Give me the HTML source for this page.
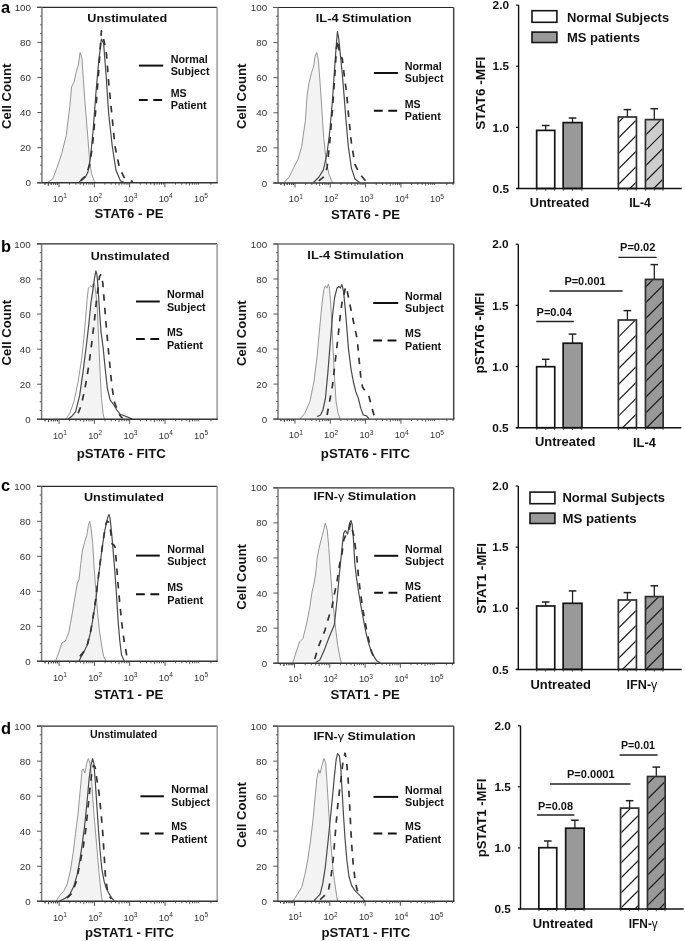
<!DOCTYPE html>
<html><head><meta charset="utf-8"><style>
html,body{margin:0;padding:0;background:#fff;width:685px;height:941px;overflow:hidden}
svg{display:block;filter:grayscale(1)}
text{font-family:"Liberation Sans", sans-serif}
</style></head><body>
<svg width="685" height="941" viewBox="0 0 685 941">
<rect width="685" height="941" fill="#fff"/>
<polygon points="47.2,182.7 52.7,179.0 57.2,167.3 61.7,153.7 66.2,135.7 69.8,106.8 71.6,86.9 74.3,81.4 76.1,72.4 78.3,65.2 80.1,52.5 81.9,58.0 83.4,79.6 85.2,105.0 87.4,132.0 89.7,161.0 91.5,173.6 94.2,180.8 96.0,182.7" fill="#f3f3f3" stroke="none"/>
<polyline points="47.2,182.7 52.7,179.0 57.2,167.3 61.7,153.7 66.2,135.7 69.8,106.8 71.6,86.9 74.3,81.4 76.1,72.4 78.3,65.2 80.1,52.5 81.9,58.0 83.4,79.6 85.2,105.0 87.4,132.0 89.7,161.0 91.5,173.6 94.2,180.8 96.0,182.7" fill="none" stroke="#969696" stroke-width="1.0"/>
<polyline points="78.9,182.7 81.0,180.0 83.4,177.5 86.0,176.0 87.9,172.0 90.6,157.0 93.3,128.0 96.0,92.0 98.7,61.6 101.4,39.0 103.6,43.5 106.0,74.0 108.7,114.0 112.3,146.5 115.9,170.0 120.4,180.8 125.0,182.7" fill="none" stroke="#4a4a4a" stroke-width="1.2" stroke-linejoin="round"/>
<polyline points="80.7,181.0 86.0,176.0 89.5,165.0 92.4,146.5 96.0,106.8 98.7,70.6 101.4,30.8 104.2,41.7 106.5,54.3 108.7,83.0 111.4,110.0 115.0,146.5 119.5,168.0 125.0,179.0 133.0,181.5" fill="none" stroke="#333" stroke-width="1.7" stroke-dasharray="6.5,7" stroke-linejoin="round"/>
<line x1="37.20" y1="7.30" x2="217.10" y2="7.30" stroke="#2a2a2a" stroke-width="1.2"/>
<line x1="217.10" y1="7.30" x2="217.10" y2="182.70" stroke="#999" stroke-width="1.5"/>
<line x1="41.90" y1="7.30" x2="41.90" y2="182.70" stroke="#7a7a7a" stroke-width="1.5"/>
<line x1="37.20" y1="182.70" x2="217.80" y2="182.70" stroke="#333" stroke-width="1.4"/>
<line x1="37.40" y1="182.70" x2="41.90" y2="182.70" stroke="#555" stroke-width="1.0"/>
<line x1="40.10" y1="173.93" x2="41.90" y2="173.93" stroke="#555" stroke-width="1.0"/>
<line x1="40.10" y1="165.16" x2="41.90" y2="165.16" stroke="#555" stroke-width="1.0"/>
<line x1="40.10" y1="156.39" x2="41.90" y2="156.39" stroke="#555" stroke-width="1.0"/>
<line x1="37.40" y1="147.62" x2="41.90" y2="147.62" stroke="#555" stroke-width="1.0"/>
<line x1="40.10" y1="138.85" x2="41.90" y2="138.85" stroke="#555" stroke-width="1.0"/>
<line x1="40.10" y1="130.08" x2="41.90" y2="130.08" stroke="#555" stroke-width="1.0"/>
<line x1="40.10" y1="121.31" x2="41.90" y2="121.31" stroke="#555" stroke-width="1.0"/>
<line x1="37.40" y1="112.54" x2="41.90" y2="112.54" stroke="#555" stroke-width="1.0"/>
<line x1="40.10" y1="103.77" x2="41.90" y2="103.77" stroke="#555" stroke-width="1.0"/>
<line x1="40.10" y1="95.00" x2="41.90" y2="95.00" stroke="#555" stroke-width="1.0"/>
<line x1="40.10" y1="86.23" x2="41.90" y2="86.23" stroke="#555" stroke-width="1.0"/>
<line x1="37.40" y1="77.46" x2="41.90" y2="77.46" stroke="#555" stroke-width="1.0"/>
<line x1="40.10" y1="68.69" x2="41.90" y2="68.69" stroke="#555" stroke-width="1.0"/>
<line x1="40.10" y1="59.92" x2="41.90" y2="59.92" stroke="#555" stroke-width="1.0"/>
<line x1="40.10" y1="51.15" x2="41.90" y2="51.15" stroke="#555" stroke-width="1.0"/>
<line x1="37.40" y1="42.38" x2="41.90" y2="42.38" stroke="#555" stroke-width="1.0"/>
<line x1="40.10" y1="33.61" x2="41.90" y2="33.61" stroke="#555" stroke-width="1.0"/>
<line x1="40.10" y1="24.84" x2="41.90" y2="24.84" stroke="#555" stroke-width="1.0"/>
<line x1="40.10" y1="16.07" x2="41.90" y2="16.07" stroke="#555" stroke-width="1.0"/>
<line x1="37.40" y1="7.30" x2="41.90" y2="7.30" stroke="#555" stroke-width="1.0"/>
<text x="31.0" y="186.2" font-size="9.8" text-anchor="end" fill="#333">0</text>
<text x="31.0" y="151.2" font-size="9.8" text-anchor="end" fill="#333">20</text>
<text x="31.0" y="116.1" font-size="9.8" text-anchor="end" fill="#333">40</text>
<text x="31.0" y="81.0" font-size="9.8" text-anchor="end" fill="#333">60</text>
<text x="31.0" y="45.9" font-size="9.8" text-anchor="end" fill="#333">80</text>
<text x="31.0" y="10.9" font-size="9.8" text-anchor="end" fill="#333">100</text>
<line x1="44.95" y1="182.70" x2="44.95" y2="184.70" stroke="#444" stroke-width="0.9"/>
<line x1="48.37" y1="182.70" x2="48.37" y2="185.50" stroke="#444" stroke-width="0.9"/>
<line x1="51.17" y1="182.70" x2="51.17" y2="184.70" stroke="#444" stroke-width="0.9"/>
<line x1="53.53" y1="182.70" x2="53.53" y2="184.70" stroke="#444" stroke-width="0.9"/>
<line x1="55.58" y1="182.70" x2="55.58" y2="184.70" stroke="#444" stroke-width="0.9"/>
<line x1="57.38" y1="182.70" x2="57.38" y2="184.70" stroke="#444" stroke-width="0.9"/>
<line x1="59.00" y1="182.70" x2="59.00" y2="187.30" stroke="#444" stroke-width="0.9"/>
<line x1="69.63" y1="182.70" x2="69.63" y2="184.70" stroke="#444" stroke-width="0.9"/>
<line x1="75.84" y1="182.70" x2="75.84" y2="184.70" stroke="#444" stroke-width="0.9"/>
<line x1="80.25" y1="182.70" x2="80.25" y2="184.70" stroke="#444" stroke-width="0.9"/>
<line x1="83.67" y1="182.70" x2="83.67" y2="185.50" stroke="#444" stroke-width="0.9"/>
<line x1="86.47" y1="182.70" x2="86.47" y2="184.70" stroke="#444" stroke-width="0.9"/>
<line x1="88.83" y1="182.70" x2="88.83" y2="184.70" stroke="#444" stroke-width="0.9"/>
<line x1="90.88" y1="182.70" x2="90.88" y2="184.70" stroke="#444" stroke-width="0.9"/>
<line x1="92.68" y1="182.70" x2="92.68" y2="184.70" stroke="#444" stroke-width="0.9"/>
<line x1="94.30" y1="182.70" x2="94.30" y2="187.30" stroke="#444" stroke-width="0.9"/>
<line x1="104.93" y1="182.70" x2="104.93" y2="184.70" stroke="#444" stroke-width="0.9"/>
<line x1="111.14" y1="182.70" x2="111.14" y2="184.70" stroke="#444" stroke-width="0.9"/>
<line x1="115.55" y1="182.70" x2="115.55" y2="184.70" stroke="#444" stroke-width="0.9"/>
<line x1="118.97" y1="182.70" x2="118.97" y2="185.50" stroke="#444" stroke-width="0.9"/>
<line x1="121.77" y1="182.70" x2="121.77" y2="184.70" stroke="#444" stroke-width="0.9"/>
<line x1="124.13" y1="182.70" x2="124.13" y2="184.70" stroke="#444" stroke-width="0.9"/>
<line x1="126.18" y1="182.70" x2="126.18" y2="184.70" stroke="#444" stroke-width="0.9"/>
<line x1="127.98" y1="182.70" x2="127.98" y2="184.70" stroke="#444" stroke-width="0.9"/>
<line x1="129.60" y1="182.70" x2="129.60" y2="187.30" stroke="#444" stroke-width="0.9"/>
<line x1="140.23" y1="182.70" x2="140.23" y2="184.70" stroke="#444" stroke-width="0.9"/>
<line x1="146.44" y1="182.70" x2="146.44" y2="184.70" stroke="#444" stroke-width="0.9"/>
<line x1="150.85" y1="182.70" x2="150.85" y2="184.70" stroke="#444" stroke-width="0.9"/>
<line x1="154.27" y1="182.70" x2="154.27" y2="185.50" stroke="#444" stroke-width="0.9"/>
<line x1="157.07" y1="182.70" x2="157.07" y2="184.70" stroke="#444" stroke-width="0.9"/>
<line x1="159.43" y1="182.70" x2="159.43" y2="184.70" stroke="#444" stroke-width="0.9"/>
<line x1="161.48" y1="182.70" x2="161.48" y2="184.70" stroke="#444" stroke-width="0.9"/>
<line x1="163.28" y1="182.70" x2="163.28" y2="184.70" stroke="#444" stroke-width="0.9"/>
<line x1="164.90" y1="182.70" x2="164.90" y2="187.30" stroke="#444" stroke-width="0.9"/>
<line x1="175.53" y1="182.70" x2="175.53" y2="184.70" stroke="#444" stroke-width="0.9"/>
<line x1="181.74" y1="182.70" x2="181.74" y2="184.70" stroke="#444" stroke-width="0.9"/>
<line x1="186.15" y1="182.70" x2="186.15" y2="184.70" stroke="#444" stroke-width="0.9"/>
<line x1="189.57" y1="182.70" x2="189.57" y2="185.50" stroke="#444" stroke-width="0.9"/>
<line x1="192.37" y1="182.70" x2="192.37" y2="184.70" stroke="#444" stroke-width="0.9"/>
<line x1="194.73" y1="182.70" x2="194.73" y2="184.70" stroke="#444" stroke-width="0.9"/>
<line x1="196.78" y1="182.70" x2="196.78" y2="184.70" stroke="#444" stroke-width="0.9"/>
<line x1="198.58" y1="182.70" x2="198.58" y2="184.70" stroke="#444" stroke-width="0.9"/>
<line x1="210.83" y1="182.70" x2="210.83" y2="184.70" stroke="#444" stroke-width="0.9"/>
<line x1="44.95" y1="182.70" x2="44.95" y2="184.70" stroke="#444" stroke-width="0.9"/>
<line x1="48.37" y1="182.70" x2="48.37" y2="185.50" stroke="#444" stroke-width="0.9"/>
<line x1="51.17" y1="182.70" x2="51.17" y2="184.70" stroke="#444" stroke-width="0.9"/>
<line x1="53.53" y1="182.70" x2="53.53" y2="184.70" stroke="#444" stroke-width="0.9"/>
<line x1="55.58" y1="182.70" x2="55.58" y2="184.70" stroke="#444" stroke-width="0.9"/>
<line x1="57.38" y1="182.70" x2="57.38" y2="184.70" stroke="#444" stroke-width="0.9"/>
<text x="59.8" y="201.9" font-size="9.3" fill="#333" text-anchor="middle">10<tspan dy="-3.6" font-size="6.6">1</tspan></text>
<text x="95.1" y="201.9" font-size="9.3" fill="#333" text-anchor="middle">10<tspan dy="-3.6" font-size="6.6">2</tspan></text>
<text x="130.4" y="201.9" font-size="9.3" fill="#333" text-anchor="middle">10<tspan dy="-3.6" font-size="6.6">3</tspan></text>
<text x="165.7" y="201.9" font-size="9.3" fill="#333" text-anchor="middle">10<tspan dy="-3.6" font-size="6.6">4</tspan></text>
<text x="201.0" y="201.9" font-size="9.3" fill="#333" text-anchor="middle">10<tspan dy="-3.6" font-size="6.6">5</tspan></text>
<text x="87.3" y="21.8" font-size="11.8" font-weight="bold" text-anchor="start" fill="#111" textLength="80.0" lengthAdjust="spacingAndGlyphs">Unstimulated</text>
<line x1="138.90" y1="65.60" x2="163.20" y2="65.60" stroke="#111" stroke-width="2.0"/>
<line x1="138.90" y1="99.90" x2="163.20" y2="99.90" stroke="#111" stroke-width="2.0" stroke-dasharray="8.8,5.6"/>
<text x="170.7" y="62.5" font-size="10.6" font-weight="bold" text-anchor="start" fill="#111" textLength="37.0" lengthAdjust="spacingAndGlyphs">Normal</text>
<text x="170.7" y="74.9" font-size="10.6" font-weight="bold" text-anchor="start" fill="#111" textLength="38.8" lengthAdjust="spacingAndGlyphs">Subject</text>
<text x="170.7" y="96.7" font-size="10.6" font-weight="bold" text-anchor="start" fill="#111">MS</text>
<text x="170.7" y="109.3" font-size="10.6" font-weight="bold" text-anchor="start" fill="#111" textLength="36.0" lengthAdjust="spacingAndGlyphs">Patient</text>
<text x="94.6" y="218.4" font-size="12.6" font-weight="bold" text-anchor="start" fill="#111" textLength="68.9" lengthAdjust="spacingAndGlyphs">STAT6 - PE</text>
<text transform="translate(10.9,96.3) rotate(-90)" font-size="12.8" font-weight="bold" text-anchor="middle" fill="#111" textLength="65.5" lengthAdjust="spacingAndGlyphs">Cell Count</text>
<polygon points="283.6,183.0 289.0,177.2 293.5,168.1 298.1,159.1 301.7,146.4 305.3,121.2 307.1,95.9 308.9,83.2 311.6,72.4 313.4,67.0 315.2,56.1 316.7,52.5 318.3,59.7 320.1,83.2 321.9,110.3 323.7,137.4 326.1,160.9 328.8,173.5 331.5,180.8 333.3,183.0" fill="#f3f3f3" stroke="none"/>
<polyline points="283.6,183.0 289.0,177.2 293.5,168.1 298.1,159.1 301.7,146.4 305.3,121.2 307.1,95.9 308.9,83.2 311.6,72.4 313.4,67.0 315.2,56.1 316.7,52.5 318.3,59.7 320.1,83.2 321.9,110.3 323.7,137.4 326.1,160.9 328.8,173.5 331.5,180.8 333.3,183.0" fill="none" stroke="#969696" stroke-width="1.0"/>
<polyline points="313.4,182.5 318.8,177.2 323.4,169.9 327.0,153.7 329.7,132.0 332.4,101.3 334.2,74.2 336.0,48.9 337.4,31.7 338.7,38.1 340.5,56.1 342.3,74.2 344.1,95.9 345.9,119.3 348.3,146.4 351.4,168.1 355.0,179.0 359.5,182.5" fill="none" stroke="#4a4a4a" stroke-width="1.2" stroke-linejoin="round"/>
<polyline points="318.8,180.8 323.4,177.2 327.0,168.1 329.7,142.8 332.4,110.3 335.1,70.6 336.4,48.9 337.8,39.9 339.6,54.3 342.3,58.8 344.1,74.2 346.5,92.3 348.6,115.7 351.4,142.8 355.0,164.5 359.5,173.5 364.0,179.0 366.3,181.7" fill="none" stroke="#333" stroke-width="1.7" stroke-dasharray="6.5,7" stroke-linejoin="round"/>
<line x1="273.30" y1="7.50" x2="453.70" y2="7.50" stroke="#2a2a2a" stroke-width="1.2"/>
<line x1="453.70" y1="7.50" x2="453.70" y2="183.00" stroke="#444" stroke-width="1.5"/>
<line x1="278.00" y1="7.50" x2="278.00" y2="183.00" stroke="#7a7a7a" stroke-width="1.5"/>
<line x1="273.30" y1="183.00" x2="454.40" y2="183.00" stroke="#333" stroke-width="1.4"/>
<line x1="273.50" y1="183.00" x2="278.00" y2="183.00" stroke="#555" stroke-width="1.0"/>
<line x1="276.20" y1="174.22" x2="278.00" y2="174.22" stroke="#555" stroke-width="1.0"/>
<line x1="276.20" y1="165.45" x2="278.00" y2="165.45" stroke="#555" stroke-width="1.0"/>
<line x1="276.20" y1="156.68" x2="278.00" y2="156.68" stroke="#555" stroke-width="1.0"/>
<line x1="273.50" y1="147.90" x2="278.00" y2="147.90" stroke="#555" stroke-width="1.0"/>
<line x1="276.20" y1="139.12" x2="278.00" y2="139.12" stroke="#555" stroke-width="1.0"/>
<line x1="276.20" y1="130.35" x2="278.00" y2="130.35" stroke="#555" stroke-width="1.0"/>
<line x1="276.20" y1="121.58" x2="278.00" y2="121.58" stroke="#555" stroke-width="1.0"/>
<line x1="273.50" y1="112.80" x2="278.00" y2="112.80" stroke="#555" stroke-width="1.0"/>
<line x1="276.20" y1="104.03" x2="278.00" y2="104.03" stroke="#555" stroke-width="1.0"/>
<line x1="276.20" y1="95.25" x2="278.00" y2="95.25" stroke="#555" stroke-width="1.0"/>
<line x1="276.20" y1="86.48" x2="278.00" y2="86.48" stroke="#555" stroke-width="1.0"/>
<line x1="273.50" y1="77.70" x2="278.00" y2="77.70" stroke="#555" stroke-width="1.0"/>
<line x1="276.20" y1="68.93" x2="278.00" y2="68.93" stroke="#555" stroke-width="1.0"/>
<line x1="276.20" y1="60.15" x2="278.00" y2="60.15" stroke="#555" stroke-width="1.0"/>
<line x1="276.20" y1="51.38" x2="278.00" y2="51.38" stroke="#555" stroke-width="1.0"/>
<line x1="273.50" y1="42.60" x2="278.00" y2="42.60" stroke="#555" stroke-width="1.0"/>
<line x1="276.20" y1="33.83" x2="278.00" y2="33.83" stroke="#555" stroke-width="1.0"/>
<line x1="276.20" y1="25.05" x2="278.00" y2="25.05" stroke="#555" stroke-width="1.0"/>
<line x1="276.20" y1="16.28" x2="278.00" y2="16.28" stroke="#555" stroke-width="1.0"/>
<line x1="273.50" y1="7.50" x2="278.00" y2="7.50" stroke="#555" stroke-width="1.0"/>
<text x="267.1" y="186.6" font-size="9.8" text-anchor="end" fill="#333">0</text>
<text x="267.1" y="151.5" font-size="9.8" text-anchor="end" fill="#333">20</text>
<text x="267.1" y="116.4" font-size="9.8" text-anchor="end" fill="#333">40</text>
<text x="267.1" y="81.2" font-size="9.8" text-anchor="end" fill="#333">60</text>
<text x="267.1" y="46.2" font-size="9.8" text-anchor="end" fill="#333">80</text>
<text x="267.1" y="11.1" font-size="9.8" text-anchor="end" fill="#333">100</text>
<line x1="280.95" y1="183.00" x2="280.95" y2="185.00" stroke="#444" stroke-width="0.9"/>
<line x1="284.37" y1="183.00" x2="284.37" y2="185.80" stroke="#444" stroke-width="0.9"/>
<line x1="287.17" y1="183.00" x2="287.17" y2="185.00" stroke="#444" stroke-width="0.9"/>
<line x1="289.53" y1="183.00" x2="289.53" y2="185.00" stroke="#444" stroke-width="0.9"/>
<line x1="291.58" y1="183.00" x2="291.58" y2="185.00" stroke="#444" stroke-width="0.9"/>
<line x1="293.38" y1="183.00" x2="293.38" y2="185.00" stroke="#444" stroke-width="0.9"/>
<line x1="295.00" y1="183.00" x2="295.00" y2="187.60" stroke="#444" stroke-width="0.9"/>
<line x1="305.63" y1="183.00" x2="305.63" y2="185.00" stroke="#444" stroke-width="0.9"/>
<line x1="311.84" y1="183.00" x2="311.84" y2="185.00" stroke="#444" stroke-width="0.9"/>
<line x1="316.25" y1="183.00" x2="316.25" y2="185.00" stroke="#444" stroke-width="0.9"/>
<line x1="319.67" y1="183.00" x2="319.67" y2="185.80" stroke="#444" stroke-width="0.9"/>
<line x1="322.47" y1="183.00" x2="322.47" y2="185.00" stroke="#444" stroke-width="0.9"/>
<line x1="324.83" y1="183.00" x2="324.83" y2="185.00" stroke="#444" stroke-width="0.9"/>
<line x1="326.88" y1="183.00" x2="326.88" y2="185.00" stroke="#444" stroke-width="0.9"/>
<line x1="328.68" y1="183.00" x2="328.68" y2="185.00" stroke="#444" stroke-width="0.9"/>
<line x1="330.30" y1="183.00" x2="330.30" y2="187.60" stroke="#444" stroke-width="0.9"/>
<line x1="340.93" y1="183.00" x2="340.93" y2="185.00" stroke="#444" stroke-width="0.9"/>
<line x1="347.14" y1="183.00" x2="347.14" y2="185.00" stroke="#444" stroke-width="0.9"/>
<line x1="351.55" y1="183.00" x2="351.55" y2="185.00" stroke="#444" stroke-width="0.9"/>
<line x1="354.97" y1="183.00" x2="354.97" y2="185.80" stroke="#444" stroke-width="0.9"/>
<line x1="357.77" y1="183.00" x2="357.77" y2="185.00" stroke="#444" stroke-width="0.9"/>
<line x1="360.13" y1="183.00" x2="360.13" y2="185.00" stroke="#444" stroke-width="0.9"/>
<line x1="362.18" y1="183.00" x2="362.18" y2="185.00" stroke="#444" stroke-width="0.9"/>
<line x1="363.98" y1="183.00" x2="363.98" y2="185.00" stroke="#444" stroke-width="0.9"/>
<line x1="365.60" y1="183.00" x2="365.60" y2="187.60" stroke="#444" stroke-width="0.9"/>
<line x1="376.23" y1="183.00" x2="376.23" y2="185.00" stroke="#444" stroke-width="0.9"/>
<line x1="382.44" y1="183.00" x2="382.44" y2="185.00" stroke="#444" stroke-width="0.9"/>
<line x1="386.85" y1="183.00" x2="386.85" y2="185.00" stroke="#444" stroke-width="0.9"/>
<line x1="390.27" y1="183.00" x2="390.27" y2="185.80" stroke="#444" stroke-width="0.9"/>
<line x1="393.07" y1="183.00" x2="393.07" y2="185.00" stroke="#444" stroke-width="0.9"/>
<line x1="395.43" y1="183.00" x2="395.43" y2="185.00" stroke="#444" stroke-width="0.9"/>
<line x1="397.48" y1="183.00" x2="397.48" y2="185.00" stroke="#444" stroke-width="0.9"/>
<line x1="399.28" y1="183.00" x2="399.28" y2="185.00" stroke="#444" stroke-width="0.9"/>
<line x1="400.90" y1="183.00" x2="400.90" y2="187.60" stroke="#444" stroke-width="0.9"/>
<line x1="411.53" y1="183.00" x2="411.53" y2="185.00" stroke="#444" stroke-width="0.9"/>
<line x1="417.74" y1="183.00" x2="417.74" y2="185.00" stroke="#444" stroke-width="0.9"/>
<line x1="422.15" y1="183.00" x2="422.15" y2="185.00" stroke="#444" stroke-width="0.9"/>
<line x1="425.57" y1="183.00" x2="425.57" y2="185.80" stroke="#444" stroke-width="0.9"/>
<line x1="428.37" y1="183.00" x2="428.37" y2="185.00" stroke="#444" stroke-width="0.9"/>
<line x1="430.73" y1="183.00" x2="430.73" y2="185.00" stroke="#444" stroke-width="0.9"/>
<line x1="432.78" y1="183.00" x2="432.78" y2="185.00" stroke="#444" stroke-width="0.9"/>
<line x1="434.58" y1="183.00" x2="434.58" y2="185.00" stroke="#444" stroke-width="0.9"/>
<line x1="446.83" y1="183.00" x2="446.83" y2="185.00" stroke="#444" stroke-width="0.9"/>
<line x1="453.04" y1="183.00" x2="453.04" y2="185.00" stroke="#444" stroke-width="0.9"/>
<line x1="280.95" y1="183.00" x2="280.95" y2="185.00" stroke="#444" stroke-width="0.9"/>
<line x1="284.37" y1="183.00" x2="284.37" y2="185.80" stroke="#444" stroke-width="0.9"/>
<line x1="287.17" y1="183.00" x2="287.17" y2="185.00" stroke="#444" stroke-width="0.9"/>
<line x1="289.53" y1="183.00" x2="289.53" y2="185.00" stroke="#444" stroke-width="0.9"/>
<line x1="291.58" y1="183.00" x2="291.58" y2="185.00" stroke="#444" stroke-width="0.9"/>
<line x1="293.38" y1="183.00" x2="293.38" y2="185.00" stroke="#444" stroke-width="0.9"/>
<text x="295.8" y="202.2" font-size="9.3" fill="#333" text-anchor="middle">10<tspan dy="-3.6" font-size="6.6">1</tspan></text>
<text x="331.1" y="202.2" font-size="9.3" fill="#333" text-anchor="middle">10<tspan dy="-3.6" font-size="6.6">2</tspan></text>
<text x="366.4" y="202.2" font-size="9.3" fill="#333" text-anchor="middle">10<tspan dy="-3.6" font-size="6.6">3</tspan></text>
<text x="401.7" y="202.2" font-size="9.3" fill="#333" text-anchor="middle">10<tspan dy="-3.6" font-size="6.6">4</tspan></text>
<text x="437.0" y="202.2" font-size="9.3" fill="#333" text-anchor="middle">10<tspan dy="-3.6" font-size="6.6">5</tspan></text>
<text x="315.8" y="22.2" font-size="11.8" font-weight="bold" text-anchor="start" fill="#111" textLength="95.7" lengthAdjust="spacingAndGlyphs">IL-4 Stimulation</text>
<line x1="373.90" y1="73.00" x2="397.90" y2="73.00" stroke="#111" stroke-width="2.0"/>
<line x1="373.90" y1="110.70" x2="397.90" y2="110.70" stroke="#111" stroke-width="2.0" stroke-dasharray="8.8,5.6"/>
<text x="404.8" y="69.9" font-size="10.6" font-weight="bold" text-anchor="start" fill="#111" textLength="37.0" lengthAdjust="spacingAndGlyphs">Normal</text>
<text x="404.8" y="82.3" font-size="10.6" font-weight="bold" text-anchor="start" fill="#111" textLength="38.8" lengthAdjust="spacingAndGlyphs">Subject</text>
<text x="404.8" y="107.5" font-size="10.6" font-weight="bold" text-anchor="start" fill="#111">MS</text>
<text x="404.8" y="120.1" font-size="10.6" font-weight="bold" text-anchor="start" fill="#111" textLength="36.0" lengthAdjust="spacingAndGlyphs">Patient</text>
<text x="331.0" y="219.4" font-size="12.6" font-weight="bold" text-anchor="start" fill="#111" textLength="69.0" lengthAdjust="spacingAndGlyphs">STAT6 - PE</text>
<text transform="translate(246.3,96.3) rotate(-90)" font-size="12.8" font-weight="bold" text-anchor="middle" fill="#111" textLength="65.5" lengthAdjust="spacingAndGlyphs">Cell Count</text>
<polygon points="68.2,419.1 71.5,416.6 75.6,411.7 79.7,395.2 83.0,372.1 86.3,345.8 88.8,324.4 90.9,303.0 92.9,289.8 94.5,278.2 94.5,283.0 96.0,295.0 97.0,303.0 98.2,327.7 99.2,352.4 100.3,377.1 101.5,398.5 103.1,413.3 104.4,419.3" fill="#f3f3f3" stroke="none"/>
<polyline points="94.5,283.0 96.0,295.0 97.0,303.0 98.2,327.7 99.2,352.4 100.3,377.1 101.5,398.5 103.1,413.3 104.4,419.3" fill="none" stroke="#969696" stroke-width="1.0"/>
<polyline points="65.7,419.3 69.8,413.3 73.9,401.8 78.1,382.0 81.4,360.6 83.8,339.2 85.5,319.4 87.1,299.7 88.4,288.1 89.9,286.5 90.9,285.7 92.1,287.3 92.9,284.0 94.0,285.0" fill="none" stroke="#969696" stroke-width="1.0"/>
<polyline points="68.2,419.1 71.5,416.6 75.6,411.7 79.7,395.2 83.0,372.1 86.3,345.8 88.8,324.4 90.9,303.0 92.9,289.8 94.5,278.2 95.9,270.8 97.0,274.9 98.2,289.8 99.5,311.2 101.1,332.6 103.1,347.4 105.2,368.8 107.4,388.6 110.2,400.1 113.5,404.3 116.8,410.0 120.1,414.2 124.2,415.8 128.3,417.4 132.4,419.0" fill="none" stroke="#4a4a4a" stroke-width="1.2" stroke-linejoin="round"/>
<polyline points="78.1,413.3 81.4,405.1 85.5,385.3 88.8,365.6 91.6,344.1 94.2,322.7 96.2,303.0 98.2,286.5 99.5,276.6 101.1,274.1 102.8,283.2 104.4,303.0 106.1,324.4 107.7,342.5 109.4,360.6 111.8,385.3 114.3,401.8 116.8,408.4 119.6,415.0 122.5,418.3" fill="none" stroke="#333" stroke-width="1.7" stroke-dasharray="6.5,7" stroke-linejoin="round"/>
<line x1="36.90" y1="243.90" x2="217.10" y2="243.90" stroke="#2a2a2a" stroke-width="1.2"/>
<line x1="217.10" y1="243.90" x2="217.10" y2="419.30" stroke="#999" stroke-width="1.5"/>
<line x1="41.60" y1="243.90" x2="41.60" y2="419.30" stroke="#7a7a7a" stroke-width="1.5"/>
<line x1="36.90" y1="419.30" x2="217.80" y2="419.30" stroke="#333" stroke-width="1.4"/>
<line x1="37.10" y1="419.30" x2="41.60" y2="419.30" stroke="#555" stroke-width="1.0"/>
<line x1="39.80" y1="410.53" x2="41.60" y2="410.53" stroke="#555" stroke-width="1.0"/>
<line x1="39.80" y1="401.76" x2="41.60" y2="401.76" stroke="#555" stroke-width="1.0"/>
<line x1="39.80" y1="392.99" x2="41.60" y2="392.99" stroke="#555" stroke-width="1.0"/>
<line x1="37.10" y1="384.22" x2="41.60" y2="384.22" stroke="#555" stroke-width="1.0"/>
<line x1="39.80" y1="375.45" x2="41.60" y2="375.45" stroke="#555" stroke-width="1.0"/>
<line x1="39.80" y1="366.68" x2="41.60" y2="366.68" stroke="#555" stroke-width="1.0"/>
<line x1="39.80" y1="357.91" x2="41.60" y2="357.91" stroke="#555" stroke-width="1.0"/>
<line x1="37.10" y1="349.14" x2="41.60" y2="349.14" stroke="#555" stroke-width="1.0"/>
<line x1="39.80" y1="340.37" x2="41.60" y2="340.37" stroke="#555" stroke-width="1.0"/>
<line x1="39.80" y1="331.60" x2="41.60" y2="331.60" stroke="#555" stroke-width="1.0"/>
<line x1="39.80" y1="322.83" x2="41.60" y2="322.83" stroke="#555" stroke-width="1.0"/>
<line x1="37.10" y1="314.06" x2="41.60" y2="314.06" stroke="#555" stroke-width="1.0"/>
<line x1="39.80" y1="305.29" x2="41.60" y2="305.29" stroke="#555" stroke-width="1.0"/>
<line x1="39.80" y1="296.52" x2="41.60" y2="296.52" stroke="#555" stroke-width="1.0"/>
<line x1="39.80" y1="287.75" x2="41.60" y2="287.75" stroke="#555" stroke-width="1.0"/>
<line x1="37.10" y1="278.98" x2="41.60" y2="278.98" stroke="#555" stroke-width="1.0"/>
<line x1="39.80" y1="270.21" x2="41.60" y2="270.21" stroke="#555" stroke-width="1.0"/>
<line x1="39.80" y1="261.44" x2="41.60" y2="261.44" stroke="#555" stroke-width="1.0"/>
<line x1="39.80" y1="252.67" x2="41.60" y2="252.67" stroke="#555" stroke-width="1.0"/>
<line x1="37.10" y1="243.90" x2="41.60" y2="243.90" stroke="#555" stroke-width="1.0"/>
<text x="30.7" y="422.9" font-size="9.8" text-anchor="end" fill="#333">0</text>
<text x="30.7" y="387.8" font-size="9.8" text-anchor="end" fill="#333">20</text>
<text x="30.7" y="352.7" font-size="9.8" text-anchor="end" fill="#333">40</text>
<text x="30.7" y="317.6" font-size="9.8" text-anchor="end" fill="#333">60</text>
<text x="30.7" y="282.5" font-size="9.8" text-anchor="end" fill="#333">80</text>
<text x="30.7" y="247.5" font-size="9.8" text-anchor="end" fill="#333">100</text>
<line x1="45.05" y1="419.30" x2="45.05" y2="421.30" stroke="#444" stroke-width="0.9"/>
<line x1="48.47" y1="419.30" x2="48.47" y2="422.10" stroke="#444" stroke-width="0.9"/>
<line x1="51.27" y1="419.30" x2="51.27" y2="421.30" stroke="#444" stroke-width="0.9"/>
<line x1="53.63" y1="419.30" x2="53.63" y2="421.30" stroke="#444" stroke-width="0.9"/>
<line x1="55.68" y1="419.30" x2="55.68" y2="421.30" stroke="#444" stroke-width="0.9"/>
<line x1="57.48" y1="419.30" x2="57.48" y2="421.30" stroke="#444" stroke-width="0.9"/>
<line x1="59.10" y1="419.30" x2="59.10" y2="423.90" stroke="#444" stroke-width="0.9"/>
<line x1="69.73" y1="419.30" x2="69.73" y2="421.30" stroke="#444" stroke-width="0.9"/>
<line x1="75.94" y1="419.30" x2="75.94" y2="421.30" stroke="#444" stroke-width="0.9"/>
<line x1="80.35" y1="419.30" x2="80.35" y2="421.30" stroke="#444" stroke-width="0.9"/>
<line x1="83.77" y1="419.30" x2="83.77" y2="422.10" stroke="#444" stroke-width="0.9"/>
<line x1="86.57" y1="419.30" x2="86.57" y2="421.30" stroke="#444" stroke-width="0.9"/>
<line x1="88.93" y1="419.30" x2="88.93" y2="421.30" stroke="#444" stroke-width="0.9"/>
<line x1="90.98" y1="419.30" x2="90.98" y2="421.30" stroke="#444" stroke-width="0.9"/>
<line x1="92.78" y1="419.30" x2="92.78" y2="421.30" stroke="#444" stroke-width="0.9"/>
<line x1="94.40" y1="419.30" x2="94.40" y2="423.90" stroke="#444" stroke-width="0.9"/>
<line x1="105.03" y1="419.30" x2="105.03" y2="421.30" stroke="#444" stroke-width="0.9"/>
<line x1="111.24" y1="419.30" x2="111.24" y2="421.30" stroke="#444" stroke-width="0.9"/>
<line x1="115.65" y1="419.30" x2="115.65" y2="421.30" stroke="#444" stroke-width="0.9"/>
<line x1="119.07" y1="419.30" x2="119.07" y2="422.10" stroke="#444" stroke-width="0.9"/>
<line x1="121.87" y1="419.30" x2="121.87" y2="421.30" stroke="#444" stroke-width="0.9"/>
<line x1="124.23" y1="419.30" x2="124.23" y2="421.30" stroke="#444" stroke-width="0.9"/>
<line x1="126.28" y1="419.30" x2="126.28" y2="421.30" stroke="#444" stroke-width="0.9"/>
<line x1="128.08" y1="419.30" x2="128.08" y2="421.30" stroke="#444" stroke-width="0.9"/>
<line x1="129.70" y1="419.30" x2="129.70" y2="423.90" stroke="#444" stroke-width="0.9"/>
<line x1="140.33" y1="419.30" x2="140.33" y2="421.30" stroke="#444" stroke-width="0.9"/>
<line x1="146.54" y1="419.30" x2="146.54" y2="421.30" stroke="#444" stroke-width="0.9"/>
<line x1="150.95" y1="419.30" x2="150.95" y2="421.30" stroke="#444" stroke-width="0.9"/>
<line x1="154.37" y1="419.30" x2="154.37" y2="422.10" stroke="#444" stroke-width="0.9"/>
<line x1="157.17" y1="419.30" x2="157.17" y2="421.30" stroke="#444" stroke-width="0.9"/>
<line x1="159.53" y1="419.30" x2="159.53" y2="421.30" stroke="#444" stroke-width="0.9"/>
<line x1="161.58" y1="419.30" x2="161.58" y2="421.30" stroke="#444" stroke-width="0.9"/>
<line x1="163.38" y1="419.30" x2="163.38" y2="421.30" stroke="#444" stroke-width="0.9"/>
<line x1="165.00" y1="419.30" x2="165.00" y2="423.90" stroke="#444" stroke-width="0.9"/>
<line x1="175.63" y1="419.30" x2="175.63" y2="421.30" stroke="#444" stroke-width="0.9"/>
<line x1="181.84" y1="419.30" x2="181.84" y2="421.30" stroke="#444" stroke-width="0.9"/>
<line x1="186.25" y1="419.30" x2="186.25" y2="421.30" stroke="#444" stroke-width="0.9"/>
<line x1="189.67" y1="419.30" x2="189.67" y2="422.10" stroke="#444" stroke-width="0.9"/>
<line x1="192.47" y1="419.30" x2="192.47" y2="421.30" stroke="#444" stroke-width="0.9"/>
<line x1="194.83" y1="419.30" x2="194.83" y2="421.30" stroke="#444" stroke-width="0.9"/>
<line x1="196.88" y1="419.30" x2="196.88" y2="421.30" stroke="#444" stroke-width="0.9"/>
<line x1="198.68" y1="419.30" x2="198.68" y2="421.30" stroke="#444" stroke-width="0.9"/>
<line x1="210.93" y1="419.30" x2="210.93" y2="421.30" stroke="#444" stroke-width="0.9"/>
<line x1="45.05" y1="419.30" x2="45.05" y2="421.30" stroke="#444" stroke-width="0.9"/>
<line x1="48.47" y1="419.30" x2="48.47" y2="422.10" stroke="#444" stroke-width="0.9"/>
<line x1="51.27" y1="419.30" x2="51.27" y2="421.30" stroke="#444" stroke-width="0.9"/>
<line x1="53.63" y1="419.30" x2="53.63" y2="421.30" stroke="#444" stroke-width="0.9"/>
<line x1="55.68" y1="419.30" x2="55.68" y2="421.30" stroke="#444" stroke-width="0.9"/>
<line x1="57.48" y1="419.30" x2="57.48" y2="421.30" stroke="#444" stroke-width="0.9"/>
<text x="59.9" y="438.5" font-size="9.3" fill="#333" text-anchor="middle">10<tspan dy="-3.6" font-size="6.6">1</tspan></text>
<text x="95.2" y="438.5" font-size="9.3" fill="#333" text-anchor="middle">10<tspan dy="-3.6" font-size="6.6">2</tspan></text>
<text x="130.5" y="438.5" font-size="9.3" fill="#333" text-anchor="middle">10<tspan dy="-3.6" font-size="6.6">3</tspan></text>
<text x="165.8" y="438.5" font-size="9.3" fill="#333" text-anchor="middle">10<tspan dy="-3.6" font-size="6.6">4</tspan></text>
<text x="201.1" y="438.5" font-size="9.3" fill="#333" text-anchor="middle">10<tspan dy="-3.6" font-size="6.6">5</tspan></text>
<text x="90.7" y="259.6" font-size="11.8" font-weight="bold" text-anchor="start" fill="#111" textLength="79.0" lengthAdjust="spacingAndGlyphs">Unstimulated</text>
<line x1="136.00" y1="301.50" x2="159.80" y2="301.50" stroke="#111" stroke-width="2.0"/>
<line x1="136.00" y1="339.10" x2="159.80" y2="339.10" stroke="#111" stroke-width="2.0" stroke-dasharray="8.8,5.6"/>
<text x="166.9" y="298.4" font-size="10.6" font-weight="bold" text-anchor="start" fill="#111" textLength="37.0" lengthAdjust="spacingAndGlyphs">Normal</text>
<text x="166.9" y="310.9" font-size="10.6" font-weight="bold" text-anchor="start" fill="#111" textLength="38.8" lengthAdjust="spacingAndGlyphs">Subject</text>
<text x="166.9" y="335.9" font-size="10.6" font-weight="bold" text-anchor="start" fill="#111">MS</text>
<text x="166.9" y="348.5" font-size="10.6" font-weight="bold" text-anchor="start" fill="#111" textLength="36.0" lengthAdjust="spacingAndGlyphs">Patient</text>
<text x="76.8" y="457.8" font-size="12.6" font-weight="bold" text-anchor="start" fill="#111" textLength="89.1" lengthAdjust="spacingAndGlyphs">pSTAT6 - FITC</text>
<text transform="translate(10.9,332.7) rotate(-90)" font-size="12.8" font-weight="bold" text-anchor="middle" fill="#111" textLength="65.5" lengthAdjust="spacingAndGlyphs">Cell Count</text>
<polygon points="299.9,419.1 304.8,413.3 309.8,401.8 313.9,382.0 317.2,355.7 319.7,327.7 322.1,303.0 323.8,289.8 325.4,285.7 327.1,288.1 328.4,284.0 329.5,288.1 331.2,311.2 332.8,344.1 334.5,377.1 336.1,401.8 338.1,413.3 340.2,419.1" fill="#f3f3f3" stroke="none"/>
<polyline points="299.9,419.1 304.8,413.3 309.8,401.8 313.9,382.0 317.2,355.7 319.7,327.7 322.1,303.0 323.8,289.8 325.4,285.7 327.1,288.1 328.4,284.0 329.5,288.1 331.2,311.2 332.8,344.1 334.5,377.1 336.1,401.8 338.1,413.3 340.2,419.1" fill="none" stroke="#969696" stroke-width="1.0"/>
<polyline points="317.2,416.6 320.5,415.0 322.9,410.0 325.4,398.5 327.9,372.1 330.4,340.8 332.5,316.1 334.5,298.0 337.0,288.1 339.1,286.5 340.3,288.0 341.9,284.5 343.5,291.4 345.2,307.9 346.8,327.7 348.5,349.1 351.0,368.8 353.4,382.0 355.9,391.9 358.4,398.5 360.8,408.4 363.3,415.0 366.6,415.8 369.1,418.8" fill="none" stroke="#4a4a4a" stroke-width="1.2" stroke-linejoin="round"/>
<polyline points="327.1,415.0 329.5,401.8 332.5,385.3 335.3,360.6 337.8,339.2 340.2,316.1 342.4,299.7 344.0,294.7 345.7,286.5 347.3,291.4 349.6,303.0 352.3,316.1 355.1,329.3 357.2,339.2 359.2,360.6 360.8,377.1 362.5,387.0 365.8,391.9 369.1,396.9 371.5,406.7 374.0,415.0 375.7,418.3" fill="none" stroke="#333" stroke-width="1.7" stroke-dasharray="6.5,7" stroke-linejoin="round"/>
<line x1="273.30" y1="244.00" x2="453.70" y2="244.00" stroke="#2a2a2a" stroke-width="1.2"/>
<line x1="453.70" y1="244.00" x2="453.70" y2="419.10" stroke="#444" stroke-width="1.5"/>
<line x1="278.00" y1="244.00" x2="278.00" y2="419.10" stroke="#7a7a7a" stroke-width="1.5"/>
<line x1="273.30" y1="419.10" x2="454.40" y2="419.10" stroke="#333" stroke-width="1.4"/>
<line x1="273.50" y1="419.10" x2="278.00" y2="419.10" stroke="#555" stroke-width="1.0"/>
<line x1="276.20" y1="410.35" x2="278.00" y2="410.35" stroke="#555" stroke-width="1.0"/>
<line x1="276.20" y1="401.59" x2="278.00" y2="401.59" stroke="#555" stroke-width="1.0"/>
<line x1="276.20" y1="392.84" x2="278.00" y2="392.84" stroke="#555" stroke-width="1.0"/>
<line x1="273.50" y1="384.08" x2="278.00" y2="384.08" stroke="#555" stroke-width="1.0"/>
<line x1="276.20" y1="375.33" x2="278.00" y2="375.33" stroke="#555" stroke-width="1.0"/>
<line x1="276.20" y1="366.57" x2="278.00" y2="366.57" stroke="#555" stroke-width="1.0"/>
<line x1="276.20" y1="357.81" x2="278.00" y2="357.81" stroke="#555" stroke-width="1.0"/>
<line x1="273.50" y1="349.06" x2="278.00" y2="349.06" stroke="#555" stroke-width="1.0"/>
<line x1="276.20" y1="340.31" x2="278.00" y2="340.31" stroke="#555" stroke-width="1.0"/>
<line x1="276.20" y1="331.55" x2="278.00" y2="331.55" stroke="#555" stroke-width="1.0"/>
<line x1="276.20" y1="322.80" x2="278.00" y2="322.80" stroke="#555" stroke-width="1.0"/>
<line x1="273.50" y1="314.04" x2="278.00" y2="314.04" stroke="#555" stroke-width="1.0"/>
<line x1="276.20" y1="305.28" x2="278.00" y2="305.28" stroke="#555" stroke-width="1.0"/>
<line x1="276.20" y1="296.53" x2="278.00" y2="296.53" stroke="#555" stroke-width="1.0"/>
<line x1="276.20" y1="287.77" x2="278.00" y2="287.77" stroke="#555" stroke-width="1.0"/>
<line x1="273.50" y1="279.02" x2="278.00" y2="279.02" stroke="#555" stroke-width="1.0"/>
<line x1="276.20" y1="270.26" x2="278.00" y2="270.26" stroke="#555" stroke-width="1.0"/>
<line x1="276.20" y1="261.51" x2="278.00" y2="261.51" stroke="#555" stroke-width="1.0"/>
<line x1="276.20" y1="252.75" x2="278.00" y2="252.75" stroke="#555" stroke-width="1.0"/>
<line x1="273.50" y1="244.00" x2="278.00" y2="244.00" stroke="#555" stroke-width="1.0"/>
<text x="267.1" y="422.7" font-size="9.8" text-anchor="end" fill="#333">0</text>
<text x="267.1" y="387.6" font-size="9.8" text-anchor="end" fill="#333">20</text>
<text x="267.1" y="352.6" font-size="9.8" text-anchor="end" fill="#333">40</text>
<text x="267.1" y="317.6" font-size="9.8" text-anchor="end" fill="#333">60</text>
<text x="267.1" y="282.6" font-size="9.8" text-anchor="end" fill="#333">80</text>
<text x="267.1" y="247.6" font-size="9.8" text-anchor="end" fill="#333">100</text>
<line x1="280.95" y1="419.10" x2="280.95" y2="421.10" stroke="#444" stroke-width="0.9"/>
<line x1="284.37" y1="419.10" x2="284.37" y2="421.90" stroke="#444" stroke-width="0.9"/>
<line x1="287.17" y1="419.10" x2="287.17" y2="421.10" stroke="#444" stroke-width="0.9"/>
<line x1="289.53" y1="419.10" x2="289.53" y2="421.10" stroke="#444" stroke-width="0.9"/>
<line x1="291.58" y1="419.10" x2="291.58" y2="421.10" stroke="#444" stroke-width="0.9"/>
<line x1="293.38" y1="419.10" x2="293.38" y2="421.10" stroke="#444" stroke-width="0.9"/>
<line x1="295.00" y1="419.10" x2="295.00" y2="423.70" stroke="#444" stroke-width="0.9"/>
<line x1="305.63" y1="419.10" x2="305.63" y2="421.10" stroke="#444" stroke-width="0.9"/>
<line x1="311.84" y1="419.10" x2="311.84" y2="421.10" stroke="#444" stroke-width="0.9"/>
<line x1="316.25" y1="419.10" x2="316.25" y2="421.10" stroke="#444" stroke-width="0.9"/>
<line x1="319.67" y1="419.10" x2="319.67" y2="421.90" stroke="#444" stroke-width="0.9"/>
<line x1="322.47" y1="419.10" x2="322.47" y2="421.10" stroke="#444" stroke-width="0.9"/>
<line x1="324.83" y1="419.10" x2="324.83" y2="421.10" stroke="#444" stroke-width="0.9"/>
<line x1="326.88" y1="419.10" x2="326.88" y2="421.10" stroke="#444" stroke-width="0.9"/>
<line x1="328.68" y1="419.10" x2="328.68" y2="421.10" stroke="#444" stroke-width="0.9"/>
<line x1="330.30" y1="419.10" x2="330.30" y2="423.70" stroke="#444" stroke-width="0.9"/>
<line x1="340.93" y1="419.10" x2="340.93" y2="421.10" stroke="#444" stroke-width="0.9"/>
<line x1="347.14" y1="419.10" x2="347.14" y2="421.10" stroke="#444" stroke-width="0.9"/>
<line x1="351.55" y1="419.10" x2="351.55" y2="421.10" stroke="#444" stroke-width="0.9"/>
<line x1="354.97" y1="419.10" x2="354.97" y2="421.90" stroke="#444" stroke-width="0.9"/>
<line x1="357.77" y1="419.10" x2="357.77" y2="421.10" stroke="#444" stroke-width="0.9"/>
<line x1="360.13" y1="419.10" x2="360.13" y2="421.10" stroke="#444" stroke-width="0.9"/>
<line x1="362.18" y1="419.10" x2="362.18" y2="421.10" stroke="#444" stroke-width="0.9"/>
<line x1="363.98" y1="419.10" x2="363.98" y2="421.10" stroke="#444" stroke-width="0.9"/>
<line x1="365.60" y1="419.10" x2="365.60" y2="423.70" stroke="#444" stroke-width="0.9"/>
<line x1="376.23" y1="419.10" x2="376.23" y2="421.10" stroke="#444" stroke-width="0.9"/>
<line x1="382.44" y1="419.10" x2="382.44" y2="421.10" stroke="#444" stroke-width="0.9"/>
<line x1="386.85" y1="419.10" x2="386.85" y2="421.10" stroke="#444" stroke-width="0.9"/>
<line x1="390.27" y1="419.10" x2="390.27" y2="421.90" stroke="#444" stroke-width="0.9"/>
<line x1="393.07" y1="419.10" x2="393.07" y2="421.10" stroke="#444" stroke-width="0.9"/>
<line x1="395.43" y1="419.10" x2="395.43" y2="421.10" stroke="#444" stroke-width="0.9"/>
<line x1="397.48" y1="419.10" x2="397.48" y2="421.10" stroke="#444" stroke-width="0.9"/>
<line x1="399.28" y1="419.10" x2="399.28" y2="421.10" stroke="#444" stroke-width="0.9"/>
<line x1="400.90" y1="419.10" x2="400.90" y2="423.70" stroke="#444" stroke-width="0.9"/>
<line x1="411.53" y1="419.10" x2="411.53" y2="421.10" stroke="#444" stroke-width="0.9"/>
<line x1="417.74" y1="419.10" x2="417.74" y2="421.10" stroke="#444" stroke-width="0.9"/>
<line x1="422.15" y1="419.10" x2="422.15" y2="421.10" stroke="#444" stroke-width="0.9"/>
<line x1="425.57" y1="419.10" x2="425.57" y2="421.90" stroke="#444" stroke-width="0.9"/>
<line x1="428.37" y1="419.10" x2="428.37" y2="421.10" stroke="#444" stroke-width="0.9"/>
<line x1="430.73" y1="419.10" x2="430.73" y2="421.10" stroke="#444" stroke-width="0.9"/>
<line x1="432.78" y1="419.10" x2="432.78" y2="421.10" stroke="#444" stroke-width="0.9"/>
<line x1="434.58" y1="419.10" x2="434.58" y2="421.10" stroke="#444" stroke-width="0.9"/>
<line x1="446.83" y1="419.10" x2="446.83" y2="421.10" stroke="#444" stroke-width="0.9"/>
<line x1="453.04" y1="419.10" x2="453.04" y2="421.10" stroke="#444" stroke-width="0.9"/>
<line x1="280.95" y1="419.10" x2="280.95" y2="421.10" stroke="#444" stroke-width="0.9"/>
<line x1="284.37" y1="419.10" x2="284.37" y2="421.90" stroke="#444" stroke-width="0.9"/>
<line x1="287.17" y1="419.10" x2="287.17" y2="421.10" stroke="#444" stroke-width="0.9"/>
<line x1="289.53" y1="419.10" x2="289.53" y2="421.10" stroke="#444" stroke-width="0.9"/>
<line x1="291.58" y1="419.10" x2="291.58" y2="421.10" stroke="#444" stroke-width="0.9"/>
<line x1="293.38" y1="419.10" x2="293.38" y2="421.10" stroke="#444" stroke-width="0.9"/>
<text x="295.8" y="438.3" font-size="9.3" fill="#333" text-anchor="middle">10<tspan dy="-3.6" font-size="6.6">1</tspan></text>
<text x="331.1" y="438.3" font-size="9.3" fill="#333" text-anchor="middle">10<tspan dy="-3.6" font-size="6.6">2</tspan></text>
<text x="366.4" y="438.3" font-size="9.3" fill="#333" text-anchor="middle">10<tspan dy="-3.6" font-size="6.6">3</tspan></text>
<text x="401.7" y="438.3" font-size="9.3" fill="#333" text-anchor="middle">10<tspan dy="-3.6" font-size="6.6">4</tspan></text>
<text x="437.0" y="438.3" font-size="9.3" fill="#333" text-anchor="middle">10<tspan dy="-3.6" font-size="6.6">5</tspan></text>
<text x="307.3" y="259.2" font-size="11.8" font-weight="bold" text-anchor="start" fill="#111" textLength="96.7" lengthAdjust="spacingAndGlyphs">IL-4 Stimulation</text>
<line x1="373.20" y1="303.00" x2="398.20" y2="303.00" stroke="#111" stroke-width="2.0"/>
<line x1="373.20" y1="340.50" x2="398.20" y2="340.50" stroke="#111" stroke-width="2.0" stroke-dasharray="8.8,5.6"/>
<text x="405.1" y="299.9" font-size="10.6" font-weight="bold" text-anchor="start" fill="#111" textLength="37.0" lengthAdjust="spacingAndGlyphs">Normal</text>
<text x="405.1" y="312.4" font-size="10.6" font-weight="bold" text-anchor="start" fill="#111" textLength="38.8" lengthAdjust="spacingAndGlyphs">Subject</text>
<text x="405.1" y="337.3" font-size="10.6" font-weight="bold" text-anchor="start" fill="#111">MS</text>
<text x="405.1" y="349.9" font-size="10.6" font-weight="bold" text-anchor="start" fill="#111" textLength="36.0" lengthAdjust="spacingAndGlyphs">Patient</text>
<text x="320.8" y="457.6" font-size="12.6" font-weight="bold" text-anchor="start" fill="#111" textLength="89.2" lengthAdjust="spacingAndGlyphs">pSTAT6 - FITC</text>
<text transform="translate(246.3,333.2) rotate(-90)" font-size="12.8" font-weight="bold" text-anchor="middle" fill="#111" textLength="65.5" lengthAdjust="spacingAndGlyphs">Cell Count</text>
<polygon points="55.5,661.3 58.6,653.0 62.0,642.8 65.4,641.0 68.8,632.6 72.2,613.8 75.6,593.4 77.3,583.2 79.0,579.8 80.7,564.5 82.4,550.9 84.5,542.4 86.7,535.6 88.4,525.4 89.6,521.2 90.9,527.1 92.6,542.4 94.3,569.6 96.0,593.4 97.7,613.8 99.4,630.9 102.0,647.9 103.7,656.4 106.2,661.3" fill="#f3f3f3" stroke="none"/>
<polyline points="55.5,661.3 58.6,653.0 62.0,642.8 65.4,641.0 68.8,632.6 72.2,613.8 75.6,593.4 77.3,583.2 79.0,579.8 80.7,564.5 82.4,550.9 84.5,542.4 86.7,535.6 88.4,525.4 89.6,521.2 90.9,527.1 92.6,542.4 94.3,569.6 96.0,593.4 97.7,613.8 99.4,630.9 102.0,647.9 103.7,656.4 106.2,661.3" fill="none" stroke="#969696" stroke-width="1.0"/>
<polyline points="79.0,661.0 83.3,653.0 87.5,644.5 90.9,630.9 93.5,615.5 96.0,598.5 98.1,579.8 99.8,566.2 102.0,549.2 104.2,533.9 106.2,523.7 107.9,516.9 108.9,514.4 110.1,518.6 111.7,533.9 113.0,549.2 114.7,569.6 116.4,593.4 118.1,620.6 119.8,641.0 121.5,654.7 124.1,660.8" fill="none" stroke="#4a4a4a" stroke-width="1.2" stroke-linejoin="round"/>
<polyline points="79.9,656.4 84.1,651.3 87.5,644.0 90.9,630.0 93.5,614.0 96.0,597.0 98.1,579.0 99.8,565.0 102.0,549.0 104.2,534.0 106.0,524.0 107.1,521.2 108.5,522.0 110.5,530.5 112.2,544.1 113.9,545.0 115.0,547.0 116.1,559.4 117.8,581.5 119.8,603.6 121.9,624.0 124.1,641.0 126.3,653.0 127.5,660.0" fill="none" stroke="#333" stroke-width="1.7" stroke-dasharray="6.5,7" stroke-linejoin="round"/>
<line x1="36.90" y1="486.30" x2="217.10" y2="486.30" stroke="#2a2a2a" stroke-width="1.2"/>
<line x1="217.10" y1="486.30" x2="217.10" y2="661.30" stroke="#999" stroke-width="1.5"/>
<line x1="41.60" y1="486.30" x2="41.60" y2="661.30" stroke="#7a7a7a" stroke-width="1.5"/>
<line x1="36.90" y1="661.30" x2="217.80" y2="661.30" stroke="#333" stroke-width="1.4"/>
<line x1="37.10" y1="661.30" x2="41.60" y2="661.30" stroke="#555" stroke-width="1.0"/>
<line x1="39.80" y1="652.55" x2="41.60" y2="652.55" stroke="#555" stroke-width="1.0"/>
<line x1="39.80" y1="643.80" x2="41.60" y2="643.80" stroke="#555" stroke-width="1.0"/>
<line x1="39.80" y1="635.05" x2="41.60" y2="635.05" stroke="#555" stroke-width="1.0"/>
<line x1="37.10" y1="626.30" x2="41.60" y2="626.30" stroke="#555" stroke-width="1.0"/>
<line x1="39.80" y1="617.55" x2="41.60" y2="617.55" stroke="#555" stroke-width="1.0"/>
<line x1="39.80" y1="608.80" x2="41.60" y2="608.80" stroke="#555" stroke-width="1.0"/>
<line x1="39.80" y1="600.05" x2="41.60" y2="600.05" stroke="#555" stroke-width="1.0"/>
<line x1="37.10" y1="591.30" x2="41.60" y2="591.30" stroke="#555" stroke-width="1.0"/>
<line x1="39.80" y1="582.55" x2="41.60" y2="582.55" stroke="#555" stroke-width="1.0"/>
<line x1="39.80" y1="573.80" x2="41.60" y2="573.80" stroke="#555" stroke-width="1.0"/>
<line x1="39.80" y1="565.05" x2="41.60" y2="565.05" stroke="#555" stroke-width="1.0"/>
<line x1="37.10" y1="556.30" x2="41.60" y2="556.30" stroke="#555" stroke-width="1.0"/>
<line x1="39.80" y1="547.55" x2="41.60" y2="547.55" stroke="#555" stroke-width="1.0"/>
<line x1="39.80" y1="538.80" x2="41.60" y2="538.80" stroke="#555" stroke-width="1.0"/>
<line x1="39.80" y1="530.05" x2="41.60" y2="530.05" stroke="#555" stroke-width="1.0"/>
<line x1="37.10" y1="521.30" x2="41.60" y2="521.30" stroke="#555" stroke-width="1.0"/>
<line x1="39.80" y1="512.55" x2="41.60" y2="512.55" stroke="#555" stroke-width="1.0"/>
<line x1="39.80" y1="503.80" x2="41.60" y2="503.80" stroke="#555" stroke-width="1.0"/>
<line x1="39.80" y1="495.05" x2="41.60" y2="495.05" stroke="#555" stroke-width="1.0"/>
<line x1="37.10" y1="486.30" x2="41.60" y2="486.30" stroke="#555" stroke-width="1.0"/>
<text x="30.7" y="664.8" font-size="9.8" text-anchor="end" fill="#333">0</text>
<text x="30.7" y="629.8" font-size="9.8" text-anchor="end" fill="#333">20</text>
<text x="30.7" y="594.8" font-size="9.8" text-anchor="end" fill="#333">40</text>
<text x="30.7" y="559.8" font-size="9.8" text-anchor="end" fill="#333">60</text>
<text x="30.7" y="524.8" font-size="9.8" text-anchor="end" fill="#333">80</text>
<text x="30.7" y="489.9" font-size="9.8" text-anchor="end" fill="#333">100</text>
<line x1="45.05" y1="661.30" x2="45.05" y2="663.30" stroke="#444" stroke-width="0.9"/>
<line x1="48.47" y1="661.30" x2="48.47" y2="664.10" stroke="#444" stroke-width="0.9"/>
<line x1="51.27" y1="661.30" x2="51.27" y2="663.30" stroke="#444" stroke-width="0.9"/>
<line x1="53.63" y1="661.30" x2="53.63" y2="663.30" stroke="#444" stroke-width="0.9"/>
<line x1="55.68" y1="661.30" x2="55.68" y2="663.30" stroke="#444" stroke-width="0.9"/>
<line x1="57.48" y1="661.30" x2="57.48" y2="663.30" stroke="#444" stroke-width="0.9"/>
<line x1="59.10" y1="661.30" x2="59.10" y2="665.90" stroke="#444" stroke-width="0.9"/>
<line x1="69.73" y1="661.30" x2="69.73" y2="663.30" stroke="#444" stroke-width="0.9"/>
<line x1="75.94" y1="661.30" x2="75.94" y2="663.30" stroke="#444" stroke-width="0.9"/>
<line x1="80.35" y1="661.30" x2="80.35" y2="663.30" stroke="#444" stroke-width="0.9"/>
<line x1="83.77" y1="661.30" x2="83.77" y2="664.10" stroke="#444" stroke-width="0.9"/>
<line x1="86.57" y1="661.30" x2="86.57" y2="663.30" stroke="#444" stroke-width="0.9"/>
<line x1="88.93" y1="661.30" x2="88.93" y2="663.30" stroke="#444" stroke-width="0.9"/>
<line x1="90.98" y1="661.30" x2="90.98" y2="663.30" stroke="#444" stroke-width="0.9"/>
<line x1="92.78" y1="661.30" x2="92.78" y2="663.30" stroke="#444" stroke-width="0.9"/>
<line x1="94.40" y1="661.30" x2="94.40" y2="665.90" stroke="#444" stroke-width="0.9"/>
<line x1="105.03" y1="661.30" x2="105.03" y2="663.30" stroke="#444" stroke-width="0.9"/>
<line x1="111.24" y1="661.30" x2="111.24" y2="663.30" stroke="#444" stroke-width="0.9"/>
<line x1="115.65" y1="661.30" x2="115.65" y2="663.30" stroke="#444" stroke-width="0.9"/>
<line x1="119.07" y1="661.30" x2="119.07" y2="664.10" stroke="#444" stroke-width="0.9"/>
<line x1="121.87" y1="661.30" x2="121.87" y2="663.30" stroke="#444" stroke-width="0.9"/>
<line x1="124.23" y1="661.30" x2="124.23" y2="663.30" stroke="#444" stroke-width="0.9"/>
<line x1="126.28" y1="661.30" x2="126.28" y2="663.30" stroke="#444" stroke-width="0.9"/>
<line x1="128.08" y1="661.30" x2="128.08" y2="663.30" stroke="#444" stroke-width="0.9"/>
<line x1="129.70" y1="661.30" x2="129.70" y2="665.90" stroke="#444" stroke-width="0.9"/>
<line x1="140.33" y1="661.30" x2="140.33" y2="663.30" stroke="#444" stroke-width="0.9"/>
<line x1="146.54" y1="661.30" x2="146.54" y2="663.30" stroke="#444" stroke-width="0.9"/>
<line x1="150.95" y1="661.30" x2="150.95" y2="663.30" stroke="#444" stroke-width="0.9"/>
<line x1="154.37" y1="661.30" x2="154.37" y2="664.10" stroke="#444" stroke-width="0.9"/>
<line x1="157.17" y1="661.30" x2="157.17" y2="663.30" stroke="#444" stroke-width="0.9"/>
<line x1="159.53" y1="661.30" x2="159.53" y2="663.30" stroke="#444" stroke-width="0.9"/>
<line x1="161.58" y1="661.30" x2="161.58" y2="663.30" stroke="#444" stroke-width="0.9"/>
<line x1="163.38" y1="661.30" x2="163.38" y2="663.30" stroke="#444" stroke-width="0.9"/>
<line x1="165.00" y1="661.30" x2="165.00" y2="665.90" stroke="#444" stroke-width="0.9"/>
<line x1="175.63" y1="661.30" x2="175.63" y2="663.30" stroke="#444" stroke-width="0.9"/>
<line x1="181.84" y1="661.30" x2="181.84" y2="663.30" stroke="#444" stroke-width="0.9"/>
<line x1="186.25" y1="661.30" x2="186.25" y2="663.30" stroke="#444" stroke-width="0.9"/>
<line x1="189.67" y1="661.30" x2="189.67" y2="664.10" stroke="#444" stroke-width="0.9"/>
<line x1="192.47" y1="661.30" x2="192.47" y2="663.30" stroke="#444" stroke-width="0.9"/>
<line x1="194.83" y1="661.30" x2="194.83" y2="663.30" stroke="#444" stroke-width="0.9"/>
<line x1="196.88" y1="661.30" x2="196.88" y2="663.30" stroke="#444" stroke-width="0.9"/>
<line x1="198.68" y1="661.30" x2="198.68" y2="663.30" stroke="#444" stroke-width="0.9"/>
<line x1="210.93" y1="661.30" x2="210.93" y2="663.30" stroke="#444" stroke-width="0.9"/>
<line x1="45.05" y1="661.30" x2="45.05" y2="663.30" stroke="#444" stroke-width="0.9"/>
<line x1="48.47" y1="661.30" x2="48.47" y2="664.10" stroke="#444" stroke-width="0.9"/>
<line x1="51.27" y1="661.30" x2="51.27" y2="663.30" stroke="#444" stroke-width="0.9"/>
<line x1="53.63" y1="661.30" x2="53.63" y2="663.30" stroke="#444" stroke-width="0.9"/>
<line x1="55.68" y1="661.30" x2="55.68" y2="663.30" stroke="#444" stroke-width="0.9"/>
<line x1="57.48" y1="661.30" x2="57.48" y2="663.30" stroke="#444" stroke-width="0.9"/>
<text x="59.9" y="680.5" font-size="9.3" fill="#333" text-anchor="middle">10<tspan dy="-3.6" font-size="6.6">1</tspan></text>
<text x="95.2" y="680.5" font-size="9.3" fill="#333" text-anchor="middle">10<tspan dy="-3.6" font-size="6.6">2</tspan></text>
<text x="130.5" y="680.5" font-size="9.3" fill="#333" text-anchor="middle">10<tspan dy="-3.6" font-size="6.6">3</tspan></text>
<text x="165.8" y="680.5" font-size="9.3" fill="#333" text-anchor="middle">10<tspan dy="-3.6" font-size="6.6">4</tspan></text>
<text x="201.1" y="680.5" font-size="9.3" fill="#333" text-anchor="middle">10<tspan dy="-3.6" font-size="6.6">5</tspan></text>
<text x="84.0" y="500.9" font-size="11.8" font-weight="bold" text-anchor="start" fill="#111" textLength="79.9" lengthAdjust="spacingAndGlyphs">Unstimulated</text>
<line x1="136.00" y1="555.60" x2="159.80" y2="555.60" stroke="#111" stroke-width="2.0"/>
<line x1="136.00" y1="594.20" x2="159.80" y2="594.20" stroke="#111" stroke-width="2.0" stroke-dasharray="8.8,5.6"/>
<text x="167.2" y="552.5" font-size="10.6" font-weight="bold" text-anchor="start" fill="#111" textLength="37.0" lengthAdjust="spacingAndGlyphs">Normal</text>
<text x="167.2" y="565.0" font-size="10.6" font-weight="bold" text-anchor="start" fill="#111" textLength="38.8" lengthAdjust="spacingAndGlyphs">Subject</text>
<text x="167.2" y="591.0" font-size="10.6" font-weight="bold" text-anchor="start" fill="#111">MS</text>
<text x="167.2" y="603.6" font-size="10.6" font-weight="bold" text-anchor="start" fill="#111" textLength="36.0" lengthAdjust="spacingAndGlyphs">Patient</text>
<text x="93.9" y="698.6" font-size="12.6" font-weight="bold" text-anchor="start" fill="#111" textLength="69.5" lengthAdjust="spacingAndGlyphs">STAT1 - PE</text>
<polygon points="292.7,663.2 296.1,652.2 299.5,642.0 302.9,638.6 306.3,625.0 309.7,608.0 312.2,591.0 313.9,584.2 315.6,574.0 317.3,557.0 319.0,548.5 321.1,540.0 323.3,531.5 325.3,523.0 327.2,529.8 328.9,548.5 330.6,574.0 332.6,599.5 335.2,625.0 337.7,645.5 340.3,659.1 341.5,663.2" fill="#f3f3f3" stroke="none"/>
<polyline points="292.7,663.2 296.1,652.2 299.5,642.0 302.9,638.6 306.3,625.0 309.7,608.0 312.2,591.0 313.9,584.2 315.6,574.0 317.3,557.0 319.0,548.5 321.1,540.0 323.3,531.5 325.3,523.0 327.2,529.8 328.9,548.5 330.6,574.0 332.6,599.5 335.2,625.0 337.7,645.5 340.3,659.1 341.5,663.2" fill="none" stroke="#969696" stroke-width="1.0"/>
<polyline points="315.6,662.5 319.9,659.9 324.1,650.6 329.2,637.0 334.3,625.0 336.9,601.2 339.4,574.0 341.1,557.0 342.5,543.4 343.7,533.2 345.4,530.7 347.6,534.1 349.6,523.0 351.0,520.5 352.2,524.7 353.5,540.0 354.7,562.1 356.4,577.4 358.5,591.0 360.7,604.6 363.2,618.2 365.8,631.9 368.3,642.0 370.9,650.6 373.4,655.7 376.8,660.8 380.2,662.8" fill="none" stroke="#4a4a4a" stroke-width="1.2" stroke-linejoin="round"/>
<polyline points="314.8,659.1 318.2,647.2 321.6,638.7 325.0,630.1 328.4,618.2 331.8,608.0 334.3,594.4 336.9,582.5 339.4,565.5 342.0,553.6 343.7,540.0 345.9,534.9 348.8,531.5 350.5,523.0 352.2,529.8 353.9,535.8 355.1,545.1 356.8,557.0 358.5,577.4 360.7,594.4 363.2,611.4 366.3,628.4 369.2,642.0 371.7,652.3 375.1,659.1" fill="none" stroke="#333" stroke-width="1.7" stroke-dasharray="6.5,7" stroke-linejoin="round"/>
<line x1="273.30" y1="487.80" x2="453.70" y2="487.80" stroke="#2a2a2a" stroke-width="1.2"/>
<line x1="453.70" y1="487.80" x2="453.70" y2="663.20" stroke="#444" stroke-width="1.5"/>
<line x1="278.00" y1="487.80" x2="278.00" y2="663.20" stroke="#7a7a7a" stroke-width="1.5"/>
<line x1="273.30" y1="663.20" x2="454.40" y2="663.20" stroke="#333" stroke-width="1.4"/>
<line x1="273.50" y1="663.20" x2="278.00" y2="663.20" stroke="#555" stroke-width="1.0"/>
<line x1="276.20" y1="654.43" x2="278.00" y2="654.43" stroke="#555" stroke-width="1.0"/>
<line x1="276.20" y1="645.66" x2="278.00" y2="645.66" stroke="#555" stroke-width="1.0"/>
<line x1="276.20" y1="636.89" x2="278.00" y2="636.89" stroke="#555" stroke-width="1.0"/>
<line x1="273.50" y1="628.12" x2="278.00" y2="628.12" stroke="#555" stroke-width="1.0"/>
<line x1="276.20" y1="619.35" x2="278.00" y2="619.35" stroke="#555" stroke-width="1.0"/>
<line x1="276.20" y1="610.58" x2="278.00" y2="610.58" stroke="#555" stroke-width="1.0"/>
<line x1="276.20" y1="601.81" x2="278.00" y2="601.81" stroke="#555" stroke-width="1.0"/>
<line x1="273.50" y1="593.04" x2="278.00" y2="593.04" stroke="#555" stroke-width="1.0"/>
<line x1="276.20" y1="584.27" x2="278.00" y2="584.27" stroke="#555" stroke-width="1.0"/>
<line x1="276.20" y1="575.50" x2="278.00" y2="575.50" stroke="#555" stroke-width="1.0"/>
<line x1="276.20" y1="566.73" x2="278.00" y2="566.73" stroke="#555" stroke-width="1.0"/>
<line x1="273.50" y1="557.96" x2="278.00" y2="557.96" stroke="#555" stroke-width="1.0"/>
<line x1="276.20" y1="549.19" x2="278.00" y2="549.19" stroke="#555" stroke-width="1.0"/>
<line x1="276.20" y1="540.42" x2="278.00" y2="540.42" stroke="#555" stroke-width="1.0"/>
<line x1="276.20" y1="531.65" x2="278.00" y2="531.65" stroke="#555" stroke-width="1.0"/>
<line x1="273.50" y1="522.88" x2="278.00" y2="522.88" stroke="#555" stroke-width="1.0"/>
<line x1="276.20" y1="514.11" x2="278.00" y2="514.11" stroke="#555" stroke-width="1.0"/>
<line x1="276.20" y1="505.34" x2="278.00" y2="505.34" stroke="#555" stroke-width="1.0"/>
<line x1="276.20" y1="496.57" x2="278.00" y2="496.57" stroke="#555" stroke-width="1.0"/>
<line x1="273.50" y1="487.80" x2="278.00" y2="487.80" stroke="#555" stroke-width="1.0"/>
<text x="267.1" y="666.8" font-size="9.8" text-anchor="end" fill="#333">0</text>
<text x="267.1" y="631.7" font-size="9.8" text-anchor="end" fill="#333">20</text>
<text x="267.1" y="596.6" font-size="9.8" text-anchor="end" fill="#333">40</text>
<text x="267.1" y="561.5" font-size="9.8" text-anchor="end" fill="#333">60</text>
<text x="267.1" y="526.4" font-size="9.8" text-anchor="end" fill="#333">80</text>
<text x="267.1" y="491.4" font-size="9.8" text-anchor="end" fill="#333">100</text>
<line x1="280.45" y1="663.20" x2="280.45" y2="665.20" stroke="#444" stroke-width="0.9"/>
<line x1="283.87" y1="663.20" x2="283.87" y2="666.00" stroke="#444" stroke-width="0.9"/>
<line x1="286.67" y1="663.20" x2="286.67" y2="665.20" stroke="#444" stroke-width="0.9"/>
<line x1="289.03" y1="663.20" x2="289.03" y2="665.20" stroke="#444" stroke-width="0.9"/>
<line x1="291.08" y1="663.20" x2="291.08" y2="665.20" stroke="#444" stroke-width="0.9"/>
<line x1="292.88" y1="663.20" x2="292.88" y2="665.20" stroke="#444" stroke-width="0.9"/>
<line x1="294.50" y1="663.20" x2="294.50" y2="667.80" stroke="#444" stroke-width="0.9"/>
<line x1="305.13" y1="663.20" x2="305.13" y2="665.20" stroke="#444" stroke-width="0.9"/>
<line x1="311.34" y1="663.20" x2="311.34" y2="665.20" stroke="#444" stroke-width="0.9"/>
<line x1="315.75" y1="663.20" x2="315.75" y2="665.20" stroke="#444" stroke-width="0.9"/>
<line x1="319.17" y1="663.20" x2="319.17" y2="666.00" stroke="#444" stroke-width="0.9"/>
<line x1="321.97" y1="663.20" x2="321.97" y2="665.20" stroke="#444" stroke-width="0.9"/>
<line x1="324.33" y1="663.20" x2="324.33" y2="665.20" stroke="#444" stroke-width="0.9"/>
<line x1="326.38" y1="663.20" x2="326.38" y2="665.20" stroke="#444" stroke-width="0.9"/>
<line x1="328.18" y1="663.20" x2="328.18" y2="665.20" stroke="#444" stroke-width="0.9"/>
<line x1="329.80" y1="663.20" x2="329.80" y2="667.80" stroke="#444" stroke-width="0.9"/>
<line x1="340.43" y1="663.20" x2="340.43" y2="665.20" stroke="#444" stroke-width="0.9"/>
<line x1="346.64" y1="663.20" x2="346.64" y2="665.20" stroke="#444" stroke-width="0.9"/>
<line x1="351.05" y1="663.20" x2="351.05" y2="665.20" stroke="#444" stroke-width="0.9"/>
<line x1="354.47" y1="663.20" x2="354.47" y2="666.00" stroke="#444" stroke-width="0.9"/>
<line x1="357.27" y1="663.20" x2="357.27" y2="665.20" stroke="#444" stroke-width="0.9"/>
<line x1="359.63" y1="663.20" x2="359.63" y2="665.20" stroke="#444" stroke-width="0.9"/>
<line x1="361.68" y1="663.20" x2="361.68" y2="665.20" stroke="#444" stroke-width="0.9"/>
<line x1="363.48" y1="663.20" x2="363.48" y2="665.20" stroke="#444" stroke-width="0.9"/>
<line x1="365.10" y1="663.20" x2="365.10" y2="667.80" stroke="#444" stroke-width="0.9"/>
<line x1="375.73" y1="663.20" x2="375.73" y2="665.20" stroke="#444" stroke-width="0.9"/>
<line x1="381.94" y1="663.20" x2="381.94" y2="665.20" stroke="#444" stroke-width="0.9"/>
<line x1="386.35" y1="663.20" x2="386.35" y2="665.20" stroke="#444" stroke-width="0.9"/>
<line x1="389.77" y1="663.20" x2="389.77" y2="666.00" stroke="#444" stroke-width="0.9"/>
<line x1="392.57" y1="663.20" x2="392.57" y2="665.20" stroke="#444" stroke-width="0.9"/>
<line x1="394.93" y1="663.20" x2="394.93" y2="665.20" stroke="#444" stroke-width="0.9"/>
<line x1="396.98" y1="663.20" x2="396.98" y2="665.20" stroke="#444" stroke-width="0.9"/>
<line x1="398.78" y1="663.20" x2="398.78" y2="665.20" stroke="#444" stroke-width="0.9"/>
<line x1="400.40" y1="663.20" x2="400.40" y2="667.80" stroke="#444" stroke-width="0.9"/>
<line x1="411.03" y1="663.20" x2="411.03" y2="665.20" stroke="#444" stroke-width="0.9"/>
<line x1="417.24" y1="663.20" x2="417.24" y2="665.20" stroke="#444" stroke-width="0.9"/>
<line x1="421.65" y1="663.20" x2="421.65" y2="665.20" stroke="#444" stroke-width="0.9"/>
<line x1="425.07" y1="663.20" x2="425.07" y2="666.00" stroke="#444" stroke-width="0.9"/>
<line x1="427.87" y1="663.20" x2="427.87" y2="665.20" stroke="#444" stroke-width="0.9"/>
<line x1="430.23" y1="663.20" x2="430.23" y2="665.20" stroke="#444" stroke-width="0.9"/>
<line x1="432.28" y1="663.20" x2="432.28" y2="665.20" stroke="#444" stroke-width="0.9"/>
<line x1="434.08" y1="663.20" x2="434.08" y2="665.20" stroke="#444" stroke-width="0.9"/>
<line x1="446.33" y1="663.20" x2="446.33" y2="665.20" stroke="#444" stroke-width="0.9"/>
<line x1="452.54" y1="663.20" x2="452.54" y2="665.20" stroke="#444" stroke-width="0.9"/>
<line x1="280.45" y1="663.20" x2="280.45" y2="665.20" stroke="#444" stroke-width="0.9"/>
<line x1="283.87" y1="663.20" x2="283.87" y2="666.00" stroke="#444" stroke-width="0.9"/>
<line x1="286.67" y1="663.20" x2="286.67" y2="665.20" stroke="#444" stroke-width="0.9"/>
<line x1="289.03" y1="663.20" x2="289.03" y2="665.20" stroke="#444" stroke-width="0.9"/>
<line x1="291.08" y1="663.20" x2="291.08" y2="665.20" stroke="#444" stroke-width="0.9"/>
<line x1="292.88" y1="663.20" x2="292.88" y2="665.20" stroke="#444" stroke-width="0.9"/>
<text x="295.3" y="682.4" font-size="9.3" fill="#333" text-anchor="middle">10<tspan dy="-3.6" font-size="6.6">1</tspan></text>
<text x="330.6" y="682.4" font-size="9.3" fill="#333" text-anchor="middle">10<tspan dy="-3.6" font-size="6.6">2</tspan></text>
<text x="365.9" y="682.4" font-size="9.3" fill="#333" text-anchor="middle">10<tspan dy="-3.6" font-size="6.6">3</tspan></text>
<text x="401.2" y="682.4" font-size="9.3" fill="#333" text-anchor="middle">10<tspan dy="-3.6" font-size="6.6">4</tspan></text>
<text x="436.5" y="682.4" font-size="9.3" fill="#333" text-anchor="middle">10<tspan dy="-3.6" font-size="6.6">5</tspan></text>
<text x="313.5" y="500.4" font-size="11.8" font-weight="bold" text-anchor="start" fill="#111" textLength="102.6" lengthAdjust="spacingAndGlyphs">IFN-<tspan font-weight="normal">&#947;</tspan> Stimulation</text>
<line x1="374.20" y1="555.80" x2="398.20" y2="555.80" stroke="#111" stroke-width="2.0"/>
<line x1="374.20" y1="592.80" x2="398.20" y2="592.80" stroke="#111" stroke-width="2.0" stroke-dasharray="8.8,5.6"/>
<text x="405.1" y="552.7" font-size="10.6" font-weight="bold" text-anchor="start" fill="#111" textLength="37.0" lengthAdjust="spacingAndGlyphs">Normal</text>
<text x="405.1" y="565.1" font-size="10.6" font-weight="bold" text-anchor="start" fill="#111" textLength="38.8" lengthAdjust="spacingAndGlyphs">Subject</text>
<text x="405.1" y="589.6" font-size="10.6" font-weight="bold" text-anchor="start" fill="#111">MS</text>
<text x="405.1" y="602.2" font-size="10.6" font-weight="bold" text-anchor="start" fill="#111" textLength="36.0" lengthAdjust="spacingAndGlyphs">Patient</text>
<text x="330.4" y="698.6" font-size="12.6" font-weight="bold" text-anchor="start" fill="#111" textLength="69.5" lengthAdjust="spacingAndGlyphs">STAT1 - PE</text>
<text transform="translate(246.3,577.0) rotate(-90)" font-size="12.8" font-weight="bold" text-anchor="middle" fill="#111" textLength="65.5" lengthAdjust="spacingAndGlyphs">Cell Count</text>
<polygon points="56.0,901.3 60.2,894.8 63.6,891.4 67.0,884.6 70.4,871.0 73.0,853.9 75.5,833.5 78.1,813.1 80.3,789.3 82.0,770.5 83.2,768.8 84.9,773.1 86.6,763.7 88.3,758.6 89.7,762.0 91.0,770.0 92.6,796.1 94.6,821.6 96.8,847.1 99.0,872.7 101.1,893.1 102.4,901.3" fill="#f3f3f3" stroke="none"/>
<polyline points="56.0,901.3 60.2,894.8 63.6,891.4 67.0,884.6 70.4,871.0 73.0,853.9 75.5,833.5 78.1,813.1 80.3,789.3 82.0,770.5 83.2,768.8 84.9,773.1 86.6,763.7 88.3,758.6 89.7,762.0 91.0,770.0 92.6,796.1 94.6,821.6 96.8,847.1 99.0,872.7 101.1,893.1 102.4,901.3" fill="none" stroke="#969696" stroke-width="1.0"/>
<polyline points="59.4,901.0 65.3,898.2 69.6,894.8 73.8,886.3 77.2,874.4 79.8,860.7 82.3,843.7 84.9,823.3 87.1,801.2 89.1,779.0 90.9,765.4 92.6,758.6 93.9,763.7 95.1,779.0 96.8,804.6 98.5,830.1 100.2,852.2 101.9,869.3 104.1,881.2 106.2,888.0 108.7,893.1 111.3,897.3 114.3,900.8" fill="none" stroke="#4a4a4a" stroke-width="1.2" stroke-linejoin="round"/>
<polyline points="67.0,898.2 72.1,893.1 76.4,881.2 79.8,864.1 83.2,847.1 85.7,830.1 87.8,809.7 90.0,787.6 91.7,773.9 93.4,765.4 95.1,767.1 96.8,779.0 99.0,792.7 101.1,813.1 102.8,833.5 104.1,853.9 105.3,874.4 107.0,888.0 108.7,894.8 111.3,899.0" fill="none" stroke="#333" stroke-width="1.7" stroke-dasharray="6.5,7" stroke-linejoin="round"/>
<line x1="36.90" y1="726.10" x2="217.20" y2="726.10" stroke="#2a2a2a" stroke-width="1.2"/>
<line x1="217.20" y1="726.10" x2="217.20" y2="901.30" stroke="#999" stroke-width="1.5"/>
<line x1="41.60" y1="726.10" x2="41.60" y2="901.30" stroke="#7a7a7a" stroke-width="1.5"/>
<line x1="36.90" y1="901.30" x2="217.90" y2="901.30" stroke="#333" stroke-width="1.4"/>
<line x1="37.10" y1="901.30" x2="41.60" y2="901.30" stroke="#555" stroke-width="1.0"/>
<line x1="39.80" y1="892.54" x2="41.60" y2="892.54" stroke="#555" stroke-width="1.0"/>
<line x1="39.80" y1="883.78" x2="41.60" y2="883.78" stroke="#555" stroke-width="1.0"/>
<line x1="39.80" y1="875.02" x2="41.60" y2="875.02" stroke="#555" stroke-width="1.0"/>
<line x1="37.10" y1="866.26" x2="41.60" y2="866.26" stroke="#555" stroke-width="1.0"/>
<line x1="39.80" y1="857.50" x2="41.60" y2="857.50" stroke="#555" stroke-width="1.0"/>
<line x1="39.80" y1="848.74" x2="41.60" y2="848.74" stroke="#555" stroke-width="1.0"/>
<line x1="39.80" y1="839.98" x2="41.60" y2="839.98" stroke="#555" stroke-width="1.0"/>
<line x1="37.10" y1="831.22" x2="41.60" y2="831.22" stroke="#555" stroke-width="1.0"/>
<line x1="39.80" y1="822.46" x2="41.60" y2="822.46" stroke="#555" stroke-width="1.0"/>
<line x1="39.80" y1="813.70" x2="41.60" y2="813.70" stroke="#555" stroke-width="1.0"/>
<line x1="39.80" y1="804.94" x2="41.60" y2="804.94" stroke="#555" stroke-width="1.0"/>
<line x1="37.10" y1="796.18" x2="41.60" y2="796.18" stroke="#555" stroke-width="1.0"/>
<line x1="39.80" y1="787.42" x2="41.60" y2="787.42" stroke="#555" stroke-width="1.0"/>
<line x1="39.80" y1="778.66" x2="41.60" y2="778.66" stroke="#555" stroke-width="1.0"/>
<line x1="39.80" y1="769.90" x2="41.60" y2="769.90" stroke="#555" stroke-width="1.0"/>
<line x1="37.10" y1="761.14" x2="41.60" y2="761.14" stroke="#555" stroke-width="1.0"/>
<line x1="39.80" y1="752.38" x2="41.60" y2="752.38" stroke="#555" stroke-width="1.0"/>
<line x1="39.80" y1="743.62" x2="41.60" y2="743.62" stroke="#555" stroke-width="1.0"/>
<line x1="39.80" y1="734.86" x2="41.60" y2="734.86" stroke="#555" stroke-width="1.0"/>
<line x1="37.10" y1="726.10" x2="41.60" y2="726.10" stroke="#555" stroke-width="1.0"/>
<text x="30.7" y="904.8" font-size="9.8" text-anchor="end" fill="#333">0</text>
<text x="30.7" y="869.8" font-size="9.8" text-anchor="end" fill="#333">20</text>
<text x="30.7" y="834.8" font-size="9.8" text-anchor="end" fill="#333">40</text>
<text x="30.7" y="799.7" font-size="9.8" text-anchor="end" fill="#333">60</text>
<text x="30.7" y="764.7" font-size="9.8" text-anchor="end" fill="#333">80</text>
<text x="30.7" y="729.6" font-size="9.8" text-anchor="end" fill="#333">100</text>
<line x1="45.05" y1="901.30" x2="45.05" y2="903.30" stroke="#444" stroke-width="0.9"/>
<line x1="48.47" y1="901.30" x2="48.47" y2="904.10" stroke="#444" stroke-width="0.9"/>
<line x1="51.27" y1="901.30" x2="51.27" y2="903.30" stroke="#444" stroke-width="0.9"/>
<line x1="53.63" y1="901.30" x2="53.63" y2="903.30" stroke="#444" stroke-width="0.9"/>
<line x1="55.68" y1="901.30" x2="55.68" y2="903.30" stroke="#444" stroke-width="0.9"/>
<line x1="57.48" y1="901.30" x2="57.48" y2="903.30" stroke="#444" stroke-width="0.9"/>
<line x1="59.10" y1="901.30" x2="59.10" y2="905.90" stroke="#444" stroke-width="0.9"/>
<line x1="69.73" y1="901.30" x2="69.73" y2="903.30" stroke="#444" stroke-width="0.9"/>
<line x1="75.94" y1="901.30" x2="75.94" y2="903.30" stroke="#444" stroke-width="0.9"/>
<line x1="80.35" y1="901.30" x2="80.35" y2="903.30" stroke="#444" stroke-width="0.9"/>
<line x1="83.77" y1="901.30" x2="83.77" y2="904.10" stroke="#444" stroke-width="0.9"/>
<line x1="86.57" y1="901.30" x2="86.57" y2="903.30" stroke="#444" stroke-width="0.9"/>
<line x1="88.93" y1="901.30" x2="88.93" y2="903.30" stroke="#444" stroke-width="0.9"/>
<line x1="90.98" y1="901.30" x2="90.98" y2="903.30" stroke="#444" stroke-width="0.9"/>
<line x1="92.78" y1="901.30" x2="92.78" y2="903.30" stroke="#444" stroke-width="0.9"/>
<line x1="94.40" y1="901.30" x2="94.40" y2="905.90" stroke="#444" stroke-width="0.9"/>
<line x1="105.03" y1="901.30" x2="105.03" y2="903.30" stroke="#444" stroke-width="0.9"/>
<line x1="111.24" y1="901.30" x2="111.24" y2="903.30" stroke="#444" stroke-width="0.9"/>
<line x1="115.65" y1="901.30" x2="115.65" y2="903.30" stroke="#444" stroke-width="0.9"/>
<line x1="119.07" y1="901.30" x2="119.07" y2="904.10" stroke="#444" stroke-width="0.9"/>
<line x1="121.87" y1="901.30" x2="121.87" y2="903.30" stroke="#444" stroke-width="0.9"/>
<line x1="124.23" y1="901.30" x2="124.23" y2="903.30" stroke="#444" stroke-width="0.9"/>
<line x1="126.28" y1="901.30" x2="126.28" y2="903.30" stroke="#444" stroke-width="0.9"/>
<line x1="128.08" y1="901.30" x2="128.08" y2="903.30" stroke="#444" stroke-width="0.9"/>
<line x1="129.70" y1="901.30" x2="129.70" y2="905.90" stroke="#444" stroke-width="0.9"/>
<line x1="140.33" y1="901.30" x2="140.33" y2="903.30" stroke="#444" stroke-width="0.9"/>
<line x1="146.54" y1="901.30" x2="146.54" y2="903.30" stroke="#444" stroke-width="0.9"/>
<line x1="150.95" y1="901.30" x2="150.95" y2="903.30" stroke="#444" stroke-width="0.9"/>
<line x1="154.37" y1="901.30" x2="154.37" y2="904.10" stroke="#444" stroke-width="0.9"/>
<line x1="157.17" y1="901.30" x2="157.17" y2="903.30" stroke="#444" stroke-width="0.9"/>
<line x1="159.53" y1="901.30" x2="159.53" y2="903.30" stroke="#444" stroke-width="0.9"/>
<line x1="161.58" y1="901.30" x2="161.58" y2="903.30" stroke="#444" stroke-width="0.9"/>
<line x1="163.38" y1="901.30" x2="163.38" y2="903.30" stroke="#444" stroke-width="0.9"/>
<line x1="165.00" y1="901.30" x2="165.00" y2="905.90" stroke="#444" stroke-width="0.9"/>
<line x1="175.63" y1="901.30" x2="175.63" y2="903.30" stroke="#444" stroke-width="0.9"/>
<line x1="181.84" y1="901.30" x2="181.84" y2="903.30" stroke="#444" stroke-width="0.9"/>
<line x1="186.25" y1="901.30" x2="186.25" y2="903.30" stroke="#444" stroke-width="0.9"/>
<line x1="189.67" y1="901.30" x2="189.67" y2="904.10" stroke="#444" stroke-width="0.9"/>
<line x1="192.47" y1="901.30" x2="192.47" y2="903.30" stroke="#444" stroke-width="0.9"/>
<line x1="194.83" y1="901.30" x2="194.83" y2="903.30" stroke="#444" stroke-width="0.9"/>
<line x1="196.88" y1="901.30" x2="196.88" y2="903.30" stroke="#444" stroke-width="0.9"/>
<line x1="198.68" y1="901.30" x2="198.68" y2="903.30" stroke="#444" stroke-width="0.9"/>
<line x1="210.93" y1="901.30" x2="210.93" y2="903.30" stroke="#444" stroke-width="0.9"/>
<line x1="45.05" y1="901.30" x2="45.05" y2="903.30" stroke="#444" stroke-width="0.9"/>
<line x1="48.47" y1="901.30" x2="48.47" y2="904.10" stroke="#444" stroke-width="0.9"/>
<line x1="51.27" y1="901.30" x2="51.27" y2="903.30" stroke="#444" stroke-width="0.9"/>
<line x1="53.63" y1="901.30" x2="53.63" y2="903.30" stroke="#444" stroke-width="0.9"/>
<line x1="55.68" y1="901.30" x2="55.68" y2="903.30" stroke="#444" stroke-width="0.9"/>
<line x1="57.48" y1="901.30" x2="57.48" y2="903.30" stroke="#444" stroke-width="0.9"/>
<text x="59.9" y="920.5" font-size="9.3" fill="#333" text-anchor="middle">10<tspan dy="-3.6" font-size="6.6">1</tspan></text>
<text x="95.2" y="920.5" font-size="9.3" fill="#333" text-anchor="middle">10<tspan dy="-3.6" font-size="6.6">2</tspan></text>
<text x="130.5" y="920.5" font-size="9.3" fill="#333" text-anchor="middle">10<tspan dy="-3.6" font-size="6.6">3</tspan></text>
<text x="165.8" y="920.5" font-size="9.3" fill="#333" text-anchor="middle">10<tspan dy="-3.6" font-size="6.6">4</tspan></text>
<text x="201.1" y="920.5" font-size="9.3" fill="#333" text-anchor="middle">10<tspan dy="-3.6" font-size="6.6">5</tspan></text>
<text x="90.0" y="737.9" font-size="10.4" font-weight="bold" text-anchor="start" fill="#111" textLength="67.2" lengthAdjust="spacingAndGlyphs">Unstimulated</text>
<line x1="140.40" y1="796.30" x2="163.90" y2="796.30" stroke="#111" stroke-width="2.0"/>
<line x1="140.40" y1="833.60" x2="163.90" y2="833.60" stroke="#111" stroke-width="2.0" stroke-dasharray="8.8,5.6"/>
<text x="171.3" y="793.2" font-size="10.6" font-weight="bold" text-anchor="start" fill="#111" textLength="37.0" lengthAdjust="spacingAndGlyphs">Normal</text>
<text x="171.3" y="805.6" font-size="10.6" font-weight="bold" text-anchor="start" fill="#111" textLength="38.8" lengthAdjust="spacingAndGlyphs">Subject</text>
<text x="171.3" y="830.4" font-size="10.6" font-weight="bold" text-anchor="start" fill="#111">MS</text>
<text x="171.3" y="843.0" font-size="10.6" font-weight="bold" text-anchor="start" fill="#111" textLength="36.0" lengthAdjust="spacingAndGlyphs">Patient</text>
<text x="85.0" y="936.7" font-size="12.6" font-weight="bold" text-anchor="start" fill="#111" textLength="89.0" lengthAdjust="spacingAndGlyphs">pSTAT1 - FITC</text>
<polygon points="292.9,901.2 297.3,894.4 301.7,887.4 305.2,873.3 307.8,859.3 310.4,841.8 313.1,818.9 315.2,796.1 316.9,778.6 318.7,769.8 320.1,773.3 321.8,766.3 323.9,758.4 325.7,762.8 327.1,783.9 328.9,813.7 331.0,845.3 333.2,871.6 335.9,890.9 337.6,901.2" fill="#f3f3f3" stroke="none"/>
<polyline points="292.9,901.2 297.3,894.4 301.7,887.4 305.2,873.3 307.8,859.3 310.4,841.8 313.1,818.9 315.2,796.1 316.9,778.6 318.7,769.8 320.1,773.3 321.8,766.3 323.9,758.4 325.7,762.8 327.1,783.9 328.9,813.7 331.0,845.3 333.2,871.6 335.9,890.9 337.6,901.2" fill="none" stroke="#969696" stroke-width="1.0"/>
<polyline points="313.9,901.0 316.6,897.9 320.1,894.4 322.7,883.9 325.4,866.3 328.0,841.8 330.3,818.9 332.4,797.9 334.5,775.1 336.2,759.3 337.6,753.7 339.4,755.8 340.8,768.1 342.0,789.1 343.4,813.7 345.0,838.2 346.8,859.3 349.0,876.8 351.7,885.6 355.2,890.9 358.7,894.4 362.2,897.9 364.8,900.8" fill="none" stroke="#4a4a4a" stroke-width="1.2" stroke-linejoin="round"/>
<polyline points="320.1,899.6 324.0,896.0 328.0,892.6 331.0,876.8 333.2,859.3 335.5,831.2 337.6,806.7 339.7,789.1 341.5,775.1 343.2,759.3 345.0,753.2 346.4,759.3 347.8,775.1 349.0,792.6 350.3,818.9 351.7,845.3 353.4,866.3 355.2,880.4 356.9,889.1 358.7,894.4 362.2,897.9" fill="none" stroke="#333" stroke-width="1.7" stroke-dasharray="6.5,7" stroke-linejoin="round"/>
<line x1="273.10" y1="726.10" x2="453.70" y2="726.10" stroke="#2a2a2a" stroke-width="1.2"/>
<line x1="453.70" y1="726.10" x2="453.70" y2="901.20" stroke="#444" stroke-width="1.5"/>
<line x1="277.80" y1="726.10" x2="277.80" y2="901.20" stroke="#7a7a7a" stroke-width="1.5"/>
<line x1="273.10" y1="901.20" x2="454.40" y2="901.20" stroke="#333" stroke-width="1.4"/>
<line x1="273.30" y1="901.20" x2="277.80" y2="901.20" stroke="#555" stroke-width="1.0"/>
<line x1="276.00" y1="892.45" x2="277.80" y2="892.45" stroke="#555" stroke-width="1.0"/>
<line x1="276.00" y1="883.69" x2="277.80" y2="883.69" stroke="#555" stroke-width="1.0"/>
<line x1="276.00" y1="874.94" x2="277.80" y2="874.94" stroke="#555" stroke-width="1.0"/>
<line x1="273.30" y1="866.18" x2="277.80" y2="866.18" stroke="#555" stroke-width="1.0"/>
<line x1="276.00" y1="857.43" x2="277.80" y2="857.43" stroke="#555" stroke-width="1.0"/>
<line x1="276.00" y1="848.67" x2="277.80" y2="848.67" stroke="#555" stroke-width="1.0"/>
<line x1="276.00" y1="839.92" x2="277.80" y2="839.92" stroke="#555" stroke-width="1.0"/>
<line x1="273.30" y1="831.16" x2="277.80" y2="831.16" stroke="#555" stroke-width="1.0"/>
<line x1="276.00" y1="822.40" x2="277.80" y2="822.40" stroke="#555" stroke-width="1.0"/>
<line x1="276.00" y1="813.65" x2="277.80" y2="813.65" stroke="#555" stroke-width="1.0"/>
<line x1="276.00" y1="804.89" x2="277.80" y2="804.89" stroke="#555" stroke-width="1.0"/>
<line x1="273.30" y1="796.14" x2="277.80" y2="796.14" stroke="#555" stroke-width="1.0"/>
<line x1="276.00" y1="787.38" x2="277.80" y2="787.38" stroke="#555" stroke-width="1.0"/>
<line x1="276.00" y1="778.63" x2="277.80" y2="778.63" stroke="#555" stroke-width="1.0"/>
<line x1="276.00" y1="769.88" x2="277.80" y2="769.88" stroke="#555" stroke-width="1.0"/>
<line x1="273.30" y1="761.12" x2="277.80" y2="761.12" stroke="#555" stroke-width="1.0"/>
<line x1="276.00" y1="752.37" x2="277.80" y2="752.37" stroke="#555" stroke-width="1.0"/>
<line x1="276.00" y1="743.61" x2="277.80" y2="743.61" stroke="#555" stroke-width="1.0"/>
<line x1="276.00" y1="734.86" x2="277.80" y2="734.86" stroke="#555" stroke-width="1.0"/>
<line x1="273.30" y1="726.10" x2="277.80" y2="726.10" stroke="#555" stroke-width="1.0"/>
<text x="266.9" y="904.8" font-size="9.8" text-anchor="end" fill="#333">0</text>
<text x="266.9" y="869.7" font-size="9.8" text-anchor="end" fill="#333">20</text>
<text x="266.9" y="834.7" font-size="9.8" text-anchor="end" fill="#333">40</text>
<text x="266.9" y="799.7" font-size="9.8" text-anchor="end" fill="#333">60</text>
<text x="266.9" y="764.7" font-size="9.8" text-anchor="end" fill="#333">80</text>
<text x="266.9" y="729.6" font-size="9.8" text-anchor="end" fill="#333">100</text>
<line x1="280.45" y1="901.20" x2="280.45" y2="903.20" stroke="#444" stroke-width="0.9"/>
<line x1="283.87" y1="901.20" x2="283.87" y2="904.00" stroke="#444" stroke-width="0.9"/>
<line x1="286.67" y1="901.20" x2="286.67" y2="903.20" stroke="#444" stroke-width="0.9"/>
<line x1="289.03" y1="901.20" x2="289.03" y2="903.20" stroke="#444" stroke-width="0.9"/>
<line x1="291.08" y1="901.20" x2="291.08" y2="903.20" stroke="#444" stroke-width="0.9"/>
<line x1="292.88" y1="901.20" x2="292.88" y2="903.20" stroke="#444" stroke-width="0.9"/>
<line x1="294.50" y1="901.20" x2="294.50" y2="905.80" stroke="#444" stroke-width="0.9"/>
<line x1="305.13" y1="901.20" x2="305.13" y2="903.20" stroke="#444" stroke-width="0.9"/>
<line x1="311.34" y1="901.20" x2="311.34" y2="903.20" stroke="#444" stroke-width="0.9"/>
<line x1="315.75" y1="901.20" x2="315.75" y2="903.20" stroke="#444" stroke-width="0.9"/>
<line x1="319.17" y1="901.20" x2="319.17" y2="904.00" stroke="#444" stroke-width="0.9"/>
<line x1="321.97" y1="901.20" x2="321.97" y2="903.20" stroke="#444" stroke-width="0.9"/>
<line x1="324.33" y1="901.20" x2="324.33" y2="903.20" stroke="#444" stroke-width="0.9"/>
<line x1="326.38" y1="901.20" x2="326.38" y2="903.20" stroke="#444" stroke-width="0.9"/>
<line x1="328.18" y1="901.20" x2="328.18" y2="903.20" stroke="#444" stroke-width="0.9"/>
<line x1="329.80" y1="901.20" x2="329.80" y2="905.80" stroke="#444" stroke-width="0.9"/>
<line x1="340.43" y1="901.20" x2="340.43" y2="903.20" stroke="#444" stroke-width="0.9"/>
<line x1="346.64" y1="901.20" x2="346.64" y2="903.20" stroke="#444" stroke-width="0.9"/>
<line x1="351.05" y1="901.20" x2="351.05" y2="903.20" stroke="#444" stroke-width="0.9"/>
<line x1="354.47" y1="901.20" x2="354.47" y2="904.00" stroke="#444" stroke-width="0.9"/>
<line x1="357.27" y1="901.20" x2="357.27" y2="903.20" stroke="#444" stroke-width="0.9"/>
<line x1="359.63" y1="901.20" x2="359.63" y2="903.20" stroke="#444" stroke-width="0.9"/>
<line x1="361.68" y1="901.20" x2="361.68" y2="903.20" stroke="#444" stroke-width="0.9"/>
<line x1="363.48" y1="901.20" x2="363.48" y2="903.20" stroke="#444" stroke-width="0.9"/>
<line x1="365.10" y1="901.20" x2="365.10" y2="905.80" stroke="#444" stroke-width="0.9"/>
<line x1="375.73" y1="901.20" x2="375.73" y2="903.20" stroke="#444" stroke-width="0.9"/>
<line x1="381.94" y1="901.20" x2="381.94" y2="903.20" stroke="#444" stroke-width="0.9"/>
<line x1="386.35" y1="901.20" x2="386.35" y2="903.20" stroke="#444" stroke-width="0.9"/>
<line x1="389.77" y1="901.20" x2="389.77" y2="904.00" stroke="#444" stroke-width="0.9"/>
<line x1="392.57" y1="901.20" x2="392.57" y2="903.20" stroke="#444" stroke-width="0.9"/>
<line x1="394.93" y1="901.20" x2="394.93" y2="903.20" stroke="#444" stroke-width="0.9"/>
<line x1="396.98" y1="901.20" x2="396.98" y2="903.20" stroke="#444" stroke-width="0.9"/>
<line x1="398.78" y1="901.20" x2="398.78" y2="903.20" stroke="#444" stroke-width="0.9"/>
<line x1="400.40" y1="901.20" x2="400.40" y2="905.80" stroke="#444" stroke-width="0.9"/>
<line x1="411.03" y1="901.20" x2="411.03" y2="903.20" stroke="#444" stroke-width="0.9"/>
<line x1="417.24" y1="901.20" x2="417.24" y2="903.20" stroke="#444" stroke-width="0.9"/>
<line x1="421.65" y1="901.20" x2="421.65" y2="903.20" stroke="#444" stroke-width="0.9"/>
<line x1="425.07" y1="901.20" x2="425.07" y2="904.00" stroke="#444" stroke-width="0.9"/>
<line x1="427.87" y1="901.20" x2="427.87" y2="903.20" stroke="#444" stroke-width="0.9"/>
<line x1="430.23" y1="901.20" x2="430.23" y2="903.20" stroke="#444" stroke-width="0.9"/>
<line x1="432.28" y1="901.20" x2="432.28" y2="903.20" stroke="#444" stroke-width="0.9"/>
<line x1="434.08" y1="901.20" x2="434.08" y2="903.20" stroke="#444" stroke-width="0.9"/>
<line x1="446.33" y1="901.20" x2="446.33" y2="903.20" stroke="#444" stroke-width="0.9"/>
<line x1="452.54" y1="901.20" x2="452.54" y2="903.20" stroke="#444" stroke-width="0.9"/>
<line x1="280.45" y1="901.20" x2="280.45" y2="903.20" stroke="#444" stroke-width="0.9"/>
<line x1="283.87" y1="901.20" x2="283.87" y2="904.00" stroke="#444" stroke-width="0.9"/>
<line x1="286.67" y1="901.20" x2="286.67" y2="903.20" stroke="#444" stroke-width="0.9"/>
<line x1="289.03" y1="901.20" x2="289.03" y2="903.20" stroke="#444" stroke-width="0.9"/>
<line x1="291.08" y1="901.20" x2="291.08" y2="903.20" stroke="#444" stroke-width="0.9"/>
<line x1="292.88" y1="901.20" x2="292.88" y2="903.20" stroke="#444" stroke-width="0.9"/>
<text x="295.3" y="920.4" font-size="9.3" fill="#333" text-anchor="middle">10<tspan dy="-3.6" font-size="6.6">1</tspan></text>
<text x="330.6" y="920.4" font-size="9.3" fill="#333" text-anchor="middle">10<tspan dy="-3.6" font-size="6.6">2</tspan></text>
<text x="365.9" y="920.4" font-size="9.3" fill="#333" text-anchor="middle">10<tspan dy="-3.6" font-size="6.6">3</tspan></text>
<text x="401.2" y="920.4" font-size="9.3" fill="#333" text-anchor="middle">10<tspan dy="-3.6" font-size="6.6">4</tspan></text>
<text x="436.5" y="920.4" font-size="9.3" fill="#333" text-anchor="middle">10<tspan dy="-3.6" font-size="6.6">5</tspan></text>
<text x="313.4" y="740.0" font-size="11.8" font-weight="bold" text-anchor="start" fill="#111" textLength="102.3" lengthAdjust="spacingAndGlyphs">IFN-<tspan font-weight="normal">&#947;</tspan> Stimulation</text>
<line x1="373.50" y1="796.90" x2="398.20" y2="796.90" stroke="#111" stroke-width="2.0"/>
<line x1="373.50" y1="833.60" x2="398.20" y2="833.60" stroke="#111" stroke-width="2.0" stroke-dasharray="8.8,5.6"/>
<text x="405.1" y="793.8" font-size="10.6" font-weight="bold" text-anchor="start" fill="#111" textLength="37.0" lengthAdjust="spacingAndGlyphs">Normal</text>
<text x="405.1" y="806.2" font-size="10.6" font-weight="bold" text-anchor="start" fill="#111" textLength="38.8" lengthAdjust="spacingAndGlyphs">Subject</text>
<text x="405.1" y="830.4" font-size="10.6" font-weight="bold" text-anchor="start" fill="#111">MS</text>
<text x="405.1" y="843.0" font-size="10.6" font-weight="bold" text-anchor="start" fill="#111" textLength="36.0" lengthAdjust="spacingAndGlyphs">Patient</text>
<text x="321.4" y="936.5" font-size="12.6" font-weight="bold" text-anchor="start" fill="#111" textLength="88.9" lengthAdjust="spacingAndGlyphs">pSTAT1 - FITC</text>
<text transform="translate(246.3,815.0) rotate(-90)" font-size="12.8" font-weight="bold" text-anchor="middle" fill="#111" textLength="65.5" lengthAdjust="spacingAndGlyphs">Cell Count</text>
<line x1="545.70" y1="130.40" x2="545.70" y2="125.50" stroke="#222" stroke-width="1.3"/>
<line x1="541.90" y1="125.50" x2="549.50" y2="125.50" stroke="#222" stroke-width="1.5"/>
<rect x="536.65" y="130.40" width="18.10" height="58.10" fill="#fff" stroke="#151515" stroke-width="1.7"/>
<line x1="572.55" y1="122.60" x2="572.55" y2="118.00" stroke="#222" stroke-width="1.3"/>
<line x1="568.75" y1="118.00" x2="576.35" y2="118.00" stroke="#222" stroke-width="1.5"/>
<rect x="563.15" y="122.60" width="18.80" height="65.90" fill="#999" stroke="#151515" stroke-width="1.7"/>
<line x1="627.40" y1="117.00" x2="627.40" y2="109.60" stroke="#222" stroke-width="1.3"/>
<line x1="623.60" y1="109.60" x2="631.20" y2="109.60" stroke="#222" stroke-width="1.5"/>
<rect x="618.35" y="117.00" width="18.10" height="71.50" fill="#fff" stroke="#2e2e2e" stroke-width="1.7"/>
<clipPath id="c6175_117"><rect x="619.20" y="117.85" width="16.40" height="70.65"/></clipPath>
<g clip-path="url(#c6175_117)"><line x1="617.50" y1="216.30" x2="637.30" y2="196.50" stroke="#1a1a1a" stroke-width="1.2"/><line x1="617.50" y1="200.80" x2="637.30" y2="181.00" stroke="#1a1a1a" stroke-width="1.2"/><line x1="617.50" y1="185.30" x2="637.30" y2="165.50" stroke="#1a1a1a" stroke-width="1.2"/><line x1="617.50" y1="169.80" x2="637.30" y2="150.00" stroke="#1a1a1a" stroke-width="1.2"/><line x1="617.50" y1="154.30" x2="637.30" y2="134.50" stroke="#1a1a1a" stroke-width="1.2"/><line x1="617.50" y1="138.80" x2="637.30" y2="119.00" stroke="#1a1a1a" stroke-width="1.2"/><line x1="617.50" y1="123.30" x2="637.30" y2="103.50" stroke="#1a1a1a" stroke-width="1.2"/></g>
<line x1="654.30" y1="119.60" x2="654.30" y2="108.70" stroke="#222" stroke-width="1.3"/>
<line x1="650.50" y1="108.70" x2="658.10" y2="108.70" stroke="#222" stroke-width="1.5"/>
<rect x="645.45" y="119.60" width="17.70" height="68.90" fill="#cdcdcd" stroke="#2e2e2e" stroke-width="1.7"/>
<clipPath id="c6446_119"><rect x="646.30" y="120.45" width="16.00" height="68.05"/></clipPath>
<g clip-path="url(#c6446_119)"><line x1="644.60" y1="228.40" x2="664.00" y2="209.00" stroke="#1a1a1a" stroke-width="1.2"/><line x1="644.60" y1="213.00" x2="664.00" y2="193.60" stroke="#1a1a1a" stroke-width="1.2"/><line x1="644.60" y1="197.60" x2="664.00" y2="178.20" stroke="#1a1a1a" stroke-width="1.2"/><line x1="644.60" y1="182.20" x2="664.00" y2="162.80" stroke="#1a1a1a" stroke-width="1.2"/><line x1="644.60" y1="166.80" x2="664.00" y2="147.40" stroke="#1a1a1a" stroke-width="1.2"/><line x1="644.60" y1="151.40" x2="664.00" y2="132.00" stroke="#1a1a1a" stroke-width="1.2"/><line x1="644.60" y1="136.00" x2="664.00" y2="116.60" stroke="#1a1a1a" stroke-width="1.2"/><line x1="644.60" y1="120.60" x2="664.00" y2="101.20" stroke="#1a1a1a" stroke-width="1.2"/></g>
<line x1="518.60" y1="5.10" x2="518.60" y2="188.50" stroke="#111" stroke-width="1.4"/>
<line x1="516.20" y1="188.50" x2="681.70" y2="188.50" stroke="#111" stroke-width="1.5"/>
<line x1="516.00" y1="5.10" x2="518.60" y2="5.10" stroke="#111" stroke-width="1.2"/>
<text x="509.0" y="9.2" font-size="11.8" font-weight="bold" text-anchor="end" fill="#111">2.0</text>
<line x1="516.00" y1="66.23" x2="518.60" y2="66.23" stroke="#111" stroke-width="1.2"/>
<text x="509.0" y="70.3" font-size="11.8" font-weight="bold" text-anchor="end" fill="#111">1.5</text>
<line x1="516.00" y1="127.37" x2="518.60" y2="127.37" stroke="#111" stroke-width="1.2"/>
<text x="509.0" y="131.5" font-size="11.8" font-weight="bold" text-anchor="end" fill="#111">1.0</text>
<line x1="516.00" y1="188.50" x2="518.60" y2="188.50" stroke="#111" stroke-width="1.2"/>
<text x="509.0" y="192.6" font-size="11.8" font-weight="bold" text-anchor="end" fill="#111">0.5</text>
<line x1="536.80" y1="188.50" x2="536.80" y2="190.70" stroke="#333" stroke-width="0.9"/>
<line x1="545.70" y1="188.50" x2="545.70" y2="190.70" stroke="#333" stroke-width="0.9"/>
<line x1="554.60" y1="188.50" x2="554.60" y2="190.70" stroke="#333" stroke-width="0.9"/>
<line x1="563.30" y1="188.50" x2="563.30" y2="190.70" stroke="#333" stroke-width="0.9"/>
<line x1="572.55" y1="188.50" x2="572.55" y2="190.70" stroke="#333" stroke-width="0.9"/>
<line x1="581.80" y1="188.50" x2="581.80" y2="190.70" stroke="#333" stroke-width="0.9"/>
<line x1="618.50" y1="188.50" x2="618.50" y2="190.70" stroke="#333" stroke-width="0.9"/>
<line x1="627.40" y1="188.50" x2="627.40" y2="190.70" stroke="#333" stroke-width="0.9"/>
<line x1="636.30" y1="188.50" x2="636.30" y2="190.70" stroke="#333" stroke-width="0.9"/>
<line x1="645.60" y1="188.50" x2="645.60" y2="190.70" stroke="#333" stroke-width="0.9"/>
<line x1="654.30" y1="188.50" x2="654.30" y2="190.70" stroke="#333" stroke-width="0.9"/>
<line x1="663.00" y1="188.50" x2="663.00" y2="190.70" stroke="#333" stroke-width="0.9"/>
<rect x="532.0" y="10.7" width="24.9" height="11.6" fill="#fff" stroke="#151515" stroke-width="1.6"/>
<rect x="532.0" y="32.1" width="24.9" height="10.4" fill="#999" stroke="#151515" stroke-width="1.6"/>
<text x="567.0" y="22.2" font-size="12.6" font-weight="bold" text-anchor="start" fill="#111" textLength="102.1" lengthAdjust="spacingAndGlyphs">Normal Subjects</text>
<text x="567.0" y="41.7" font-size="12.6" font-weight="bold" text-anchor="start" fill="#111" textLength="72.9" lengthAdjust="spacingAndGlyphs">MS patients</text>
<text x="529.7" y="206.6" font-size="12.6" font-weight="bold" text-anchor="start" fill="#111" textLength="59.6" lengthAdjust="spacingAndGlyphs">Untreated</text>
<text x="629.2" y="206.7" font-size="12.6" font-weight="bold" text-anchor="start" fill="#111" textLength="21.7" lengthAdjust="spacingAndGlyphs">IL-4</text>
<text transform="translate(485.3,93.2) rotate(-90)" font-size="13" font-weight="bold" text-anchor="middle" fill="#111" textLength="73.1" lengthAdjust="spacingAndGlyphs">STAT6 -MFI</text>
<line x1="545.70" y1="366.70" x2="545.70" y2="359.30" stroke="#222" stroke-width="1.3"/>
<line x1="541.90" y1="359.30" x2="549.50" y2="359.30" stroke="#222" stroke-width="1.5"/>
<rect x="536.65" y="366.70" width="18.10" height="61.00" fill="#fff" stroke="#151515" stroke-width="1.7"/>
<line x1="572.55" y1="343.20" x2="572.55" y2="334.10" stroke="#222" stroke-width="1.3"/>
<line x1="568.75" y1="334.10" x2="576.35" y2="334.10" stroke="#222" stroke-width="1.5"/>
<rect x="563.15" y="343.20" width="18.80" height="84.50" fill="#999" stroke="#151515" stroke-width="1.7"/>
<line x1="627.40" y1="320.00" x2="627.40" y2="310.60" stroke="#222" stroke-width="1.3"/>
<line x1="623.60" y1="310.60" x2="631.20" y2="310.60" stroke="#222" stroke-width="1.5"/>
<rect x="618.35" y="320.00" width="18.10" height="107.70" fill="#fff" stroke="#2e2e2e" stroke-width="1.7"/>
<clipPath id="c6175_320"><rect x="619.20" y="320.85" width="16.40" height="106.85"/></clipPath>
<g clip-path="url(#c6175_320)"><line x1="617.50" y1="464.40" x2="637.30" y2="444.60" stroke="#1a1a1a" stroke-width="1.2"/><line x1="617.50" y1="448.60" x2="637.30" y2="428.80" stroke="#1a1a1a" stroke-width="1.2"/><line x1="617.50" y1="432.80" x2="637.30" y2="413.00" stroke="#1a1a1a" stroke-width="1.2"/><line x1="617.50" y1="417.00" x2="637.30" y2="397.20" stroke="#1a1a1a" stroke-width="1.2"/><line x1="617.50" y1="401.20" x2="637.30" y2="381.40" stroke="#1a1a1a" stroke-width="1.2"/><line x1="617.50" y1="385.40" x2="637.30" y2="365.60" stroke="#1a1a1a" stroke-width="1.2"/><line x1="617.50" y1="369.60" x2="637.30" y2="349.80" stroke="#1a1a1a" stroke-width="1.2"/><line x1="617.50" y1="353.80" x2="637.30" y2="334.00" stroke="#1a1a1a" stroke-width="1.2"/><line x1="617.50" y1="338.00" x2="637.30" y2="318.20" stroke="#1a1a1a" stroke-width="1.2"/><line x1="617.50" y1="322.20" x2="637.30" y2="302.40" stroke="#1a1a1a" stroke-width="1.2"/></g>
<line x1="654.30" y1="279.40" x2="654.30" y2="264.60" stroke="#222" stroke-width="1.3"/>
<line x1="650.50" y1="264.60" x2="658.10" y2="264.60" stroke="#222" stroke-width="1.5"/>
<rect x="645.45" y="279.40" width="17.70" height="148.30" fill="#999" stroke="#2e2e2e" stroke-width="1.7"/>
<clipPath id="c6446_279"><rect x="646.30" y="280.25" width="16.00" height="147.45"/></clipPath>
<g clip-path="url(#c6446_279)"><line x1="644.60" y1="461.25" x2="664.00" y2="441.85" stroke="#1a1a1a" stroke-width="1.2"/><line x1="644.60" y1="445.50" x2="664.00" y2="426.10" stroke="#1a1a1a" stroke-width="1.2"/><line x1="644.60" y1="429.75" x2="664.00" y2="410.35" stroke="#1a1a1a" stroke-width="1.2"/><line x1="644.60" y1="414.00" x2="664.00" y2="394.60" stroke="#1a1a1a" stroke-width="1.2"/><line x1="644.60" y1="398.25" x2="664.00" y2="378.85" stroke="#1a1a1a" stroke-width="1.2"/><line x1="644.60" y1="382.50" x2="664.00" y2="363.10" stroke="#1a1a1a" stroke-width="1.2"/><line x1="644.60" y1="366.75" x2="664.00" y2="347.35" stroke="#1a1a1a" stroke-width="1.2"/><line x1="644.60" y1="351.00" x2="664.00" y2="331.60" stroke="#1a1a1a" stroke-width="1.2"/><line x1="644.60" y1="335.25" x2="664.00" y2="315.85" stroke="#1a1a1a" stroke-width="1.2"/><line x1="644.60" y1="319.50" x2="664.00" y2="300.10" stroke="#1a1a1a" stroke-width="1.2"/><line x1="644.60" y1="303.75" x2="664.00" y2="284.35" stroke="#1a1a1a" stroke-width="1.2"/><line x1="644.60" y1="288.00" x2="664.00" y2="268.60" stroke="#1a1a1a" stroke-width="1.2"/></g>
<line x1="518.30" y1="244.20" x2="518.30" y2="427.70" stroke="#111" stroke-width="1.4"/>
<line x1="515.90" y1="427.70" x2="681.30" y2="427.70" stroke="#111" stroke-width="1.5"/>
<line x1="515.70" y1="244.20" x2="518.30" y2="244.20" stroke="#111" stroke-width="1.2"/>
<text x="508.7" y="248.3" font-size="11.8" font-weight="bold" text-anchor="end" fill="#111">2.0</text>
<line x1="515.70" y1="305.37" x2="518.30" y2="305.37" stroke="#111" stroke-width="1.2"/>
<text x="508.7" y="309.5" font-size="11.8" font-weight="bold" text-anchor="end" fill="#111">1.5</text>
<line x1="515.70" y1="366.53" x2="518.30" y2="366.53" stroke="#111" stroke-width="1.2"/>
<text x="508.7" y="370.6" font-size="11.8" font-weight="bold" text-anchor="end" fill="#111">1.0</text>
<line x1="515.70" y1="427.70" x2="518.30" y2="427.70" stroke="#111" stroke-width="1.2"/>
<text x="508.7" y="431.8" font-size="11.8" font-weight="bold" text-anchor="end" fill="#111">0.5</text>
<line x1="536.80" y1="427.70" x2="536.80" y2="429.90" stroke="#333" stroke-width="0.9"/>
<line x1="545.70" y1="427.70" x2="545.70" y2="429.90" stroke="#333" stroke-width="0.9"/>
<line x1="554.60" y1="427.70" x2="554.60" y2="429.90" stroke="#333" stroke-width="0.9"/>
<line x1="563.30" y1="427.70" x2="563.30" y2="429.90" stroke="#333" stroke-width="0.9"/>
<line x1="572.55" y1="427.70" x2="572.55" y2="429.90" stroke="#333" stroke-width="0.9"/>
<line x1="581.80" y1="427.70" x2="581.80" y2="429.90" stroke="#333" stroke-width="0.9"/>
<line x1="618.50" y1="427.70" x2="618.50" y2="429.90" stroke="#333" stroke-width="0.9"/>
<line x1="627.40" y1="427.70" x2="627.40" y2="429.90" stroke="#333" stroke-width="0.9"/>
<line x1="636.30" y1="427.70" x2="636.30" y2="429.90" stroke="#333" stroke-width="0.9"/>
<line x1="645.60" y1="427.70" x2="645.60" y2="429.90" stroke="#333" stroke-width="0.9"/>
<line x1="654.30" y1="427.70" x2="654.30" y2="429.90" stroke="#333" stroke-width="0.9"/>
<line x1="663.00" y1="427.70" x2="663.00" y2="429.90" stroke="#333" stroke-width="0.9"/>
<line x1="536.20" y1="321.50" x2="573.80" y2="321.50" stroke="#222" stroke-width="1.3"/>
<text x="536.5" y="316.2" font-size="10.8" font-weight="bold" text-anchor="start" fill="#111" textLength="35.4" lengthAdjust="spacingAndGlyphs">P=0.04</text>
<line x1="549.40" y1="291.00" x2="622.60" y2="291.00" stroke="#222" stroke-width="1.3"/>
<text x="564.4" y="284.6" font-size="10.8" font-weight="bold" text-anchor="start" fill="#111" textLength="41.2" lengthAdjust="spacingAndGlyphs">P=0.001</text>
<line x1="618.40" y1="257.40" x2="656.60" y2="257.40" stroke="#222" stroke-width="1.3"/>
<text x="620.0" y="251.4" font-size="10.8" font-weight="bold" text-anchor="start" fill="#111" textLength="35.4" lengthAdjust="spacingAndGlyphs">P=0.02</text>
<text x="534.9" y="446.3" font-size="12.6" font-weight="bold" text-anchor="start" fill="#111" textLength="60.5" lengthAdjust="spacingAndGlyphs">Untreated</text>
<text x="633.0" y="446.5" font-size="12.6" font-weight="bold" text-anchor="start" fill="#111" textLength="22.8" lengthAdjust="spacingAndGlyphs">IL-4</text>
<text transform="translate(483.5,333.1) rotate(-90)" font-size="13" font-weight="bold" text-anchor="middle" fill="#111" textLength="81.0" lengthAdjust="spacingAndGlyphs">pSTAT6 -MFI</text>
<line x1="545.70" y1="606.00" x2="545.70" y2="602.00" stroke="#222" stroke-width="1.3"/>
<line x1="541.90" y1="602.00" x2="549.50" y2="602.00" stroke="#222" stroke-width="1.5"/>
<rect x="536.65" y="606.00" width="18.10" height="63.40" fill="#fff" stroke="#151515" stroke-width="1.7"/>
<line x1="572.55" y1="603.30" x2="572.55" y2="590.90" stroke="#222" stroke-width="1.3"/>
<line x1="568.75" y1="590.90" x2="576.35" y2="590.90" stroke="#222" stroke-width="1.5"/>
<rect x="563.15" y="603.30" width="18.80" height="66.10" fill="#999" stroke="#151515" stroke-width="1.7"/>
<line x1="627.40" y1="600.00" x2="627.40" y2="592.60" stroke="#222" stroke-width="1.3"/>
<line x1="623.60" y1="592.60" x2="631.20" y2="592.60" stroke="#222" stroke-width="1.5"/>
<rect x="618.35" y="600.00" width="18.10" height="69.40" fill="#fff" stroke="#2e2e2e" stroke-width="1.7"/>
<clipPath id="c6175_600"><rect x="619.20" y="600.85" width="16.40" height="68.55"/></clipPath>
<g clip-path="url(#c6175_600)"><line x1="617.50" y1="704.60" x2="637.30" y2="684.80" stroke="#1a1a1a" stroke-width="1.2"/><line x1="617.50" y1="689.50" x2="637.30" y2="669.70" stroke="#1a1a1a" stroke-width="1.2"/><line x1="617.50" y1="674.40" x2="637.30" y2="654.60" stroke="#1a1a1a" stroke-width="1.2"/><line x1="617.50" y1="659.30" x2="637.30" y2="639.50" stroke="#1a1a1a" stroke-width="1.2"/><line x1="617.50" y1="644.20" x2="637.30" y2="624.40" stroke="#1a1a1a" stroke-width="1.2"/><line x1="617.50" y1="629.10" x2="637.30" y2="609.30" stroke="#1a1a1a" stroke-width="1.2"/><line x1="617.50" y1="614.00" x2="637.30" y2="594.20" stroke="#1a1a1a" stroke-width="1.2"/></g>
<line x1="654.30" y1="596.60" x2="654.30" y2="585.80" stroke="#222" stroke-width="1.3"/>
<line x1="650.50" y1="585.80" x2="658.10" y2="585.80" stroke="#222" stroke-width="1.5"/>
<rect x="645.45" y="596.60" width="17.70" height="72.80" fill="#999" stroke="#2e2e2e" stroke-width="1.7"/>
<clipPath id="c6446_596"><rect x="646.30" y="597.45" width="16.00" height="71.95"/></clipPath>
<g clip-path="url(#c6446_596)"><line x1="644.60" y1="700.80" x2="664.00" y2="681.40" stroke="#1a1a1a" stroke-width="1.2"/><line x1="644.60" y1="685.80" x2="664.00" y2="666.40" stroke="#1a1a1a" stroke-width="1.2"/><line x1="644.60" y1="670.80" x2="664.00" y2="651.40" stroke="#1a1a1a" stroke-width="1.2"/><line x1="644.60" y1="655.80" x2="664.00" y2="636.40" stroke="#1a1a1a" stroke-width="1.2"/><line x1="644.60" y1="640.80" x2="664.00" y2="621.40" stroke="#1a1a1a" stroke-width="1.2"/><line x1="644.60" y1="625.80" x2="664.00" y2="606.40" stroke="#1a1a1a" stroke-width="1.2"/><line x1="644.60" y1="610.80" x2="664.00" y2="591.40" stroke="#1a1a1a" stroke-width="1.2"/></g>
<line x1="518.30" y1="486.00" x2="518.30" y2="669.40" stroke="#111" stroke-width="1.4"/>
<line x1="515.90" y1="669.40" x2="681.70" y2="669.40" stroke="#111" stroke-width="1.5"/>
<line x1="515.70" y1="486.00" x2="518.30" y2="486.00" stroke="#111" stroke-width="1.2"/>
<text x="508.7" y="490.1" font-size="11.8" font-weight="bold" text-anchor="end" fill="#111">2.0</text>
<line x1="515.70" y1="547.13" x2="518.30" y2="547.13" stroke="#111" stroke-width="1.2"/>
<text x="508.7" y="551.2" font-size="11.8" font-weight="bold" text-anchor="end" fill="#111">1.5</text>
<line x1="515.70" y1="608.27" x2="518.30" y2="608.27" stroke="#111" stroke-width="1.2"/>
<text x="508.7" y="612.4" font-size="11.8" font-weight="bold" text-anchor="end" fill="#111">1.0</text>
<line x1="515.70" y1="669.40" x2="518.30" y2="669.40" stroke="#111" stroke-width="1.2"/>
<text x="508.7" y="673.5" font-size="11.8" font-weight="bold" text-anchor="end" fill="#111">0.5</text>
<line x1="536.80" y1="669.40" x2="536.80" y2="671.60" stroke="#333" stroke-width="0.9"/>
<line x1="545.70" y1="669.40" x2="545.70" y2="671.60" stroke="#333" stroke-width="0.9"/>
<line x1="554.60" y1="669.40" x2="554.60" y2="671.60" stroke="#333" stroke-width="0.9"/>
<line x1="563.30" y1="669.40" x2="563.30" y2="671.60" stroke="#333" stroke-width="0.9"/>
<line x1="572.55" y1="669.40" x2="572.55" y2="671.60" stroke="#333" stroke-width="0.9"/>
<line x1="581.80" y1="669.40" x2="581.80" y2="671.60" stroke="#333" stroke-width="0.9"/>
<line x1="618.50" y1="669.40" x2="618.50" y2="671.60" stroke="#333" stroke-width="0.9"/>
<line x1="627.40" y1="669.40" x2="627.40" y2="671.60" stroke="#333" stroke-width="0.9"/>
<line x1="636.30" y1="669.40" x2="636.30" y2="671.60" stroke="#333" stroke-width="0.9"/>
<line x1="645.60" y1="669.40" x2="645.60" y2="671.60" stroke="#333" stroke-width="0.9"/>
<line x1="654.30" y1="669.40" x2="654.30" y2="671.60" stroke="#333" stroke-width="0.9"/>
<line x1="663.00" y1="669.40" x2="663.00" y2="671.60" stroke="#333" stroke-width="0.9"/>
<rect x="530.0" y="492.1" width="24.9" height="11.6" fill="#fff" stroke="#151515" stroke-width="1.6"/>
<rect x="530.0" y="513.1" width="24.9" height="10.4" fill="#999" stroke="#151515" stroke-width="1.6"/>
<text x="562.4" y="501.7" font-size="12.6" font-weight="bold" text-anchor="start" fill="#111" textLength="102.7" lengthAdjust="spacingAndGlyphs">Normal Subjects</text>
<text x="562.4" y="522.5" font-size="12.6" font-weight="bold" text-anchor="start" fill="#111" textLength="74.3" lengthAdjust="spacingAndGlyphs">MS patients</text>
<text x="530.5" y="688.5" font-size="12.6" font-weight="bold" text-anchor="start" fill="#111" textLength="60.5" lengthAdjust="spacingAndGlyphs">Untreated</text>
<text x="626.6" y="688.7" font-size="12.6" font-weight="bold" text-anchor="start" fill="#111" textLength="30.8" lengthAdjust="spacingAndGlyphs">IFN-<tspan font-weight="normal">&#947;</tspan></text>
<text transform="translate(486.0,578.4) rotate(-90)" font-size="13" font-weight="bold" text-anchor="middle" fill="#111" textLength="70.9" lengthAdjust="spacingAndGlyphs">STAT1 -MFI</text>
<line x1="547.80" y1="847.70" x2="547.80" y2="841.00" stroke="#222" stroke-width="1.3"/>
<line x1="544.00" y1="841.00" x2="551.60" y2="841.00" stroke="#222" stroke-width="1.5"/>
<rect x="538.85" y="847.70" width="17.90" height="61.30" fill="#fff" stroke="#151515" stroke-width="1.7"/>
<line x1="574.90" y1="828.20" x2="574.90" y2="820.20" stroke="#222" stroke-width="1.3"/>
<line x1="571.10" y1="820.20" x2="578.70" y2="820.20" stroke="#222" stroke-width="1.5"/>
<rect x="565.65" y="828.20" width="18.50" height="80.80" fill="#999" stroke="#151515" stroke-width="1.7"/>
<line x1="629.60" y1="808.10" x2="629.60" y2="800.70" stroke="#222" stroke-width="1.3"/>
<line x1="625.80" y1="800.70" x2="633.40" y2="800.70" stroke="#222" stroke-width="1.5"/>
<rect x="620.55" y="808.10" width="18.10" height="100.90" fill="#fff" stroke="#2e2e2e" stroke-width="1.7"/>
<clipPath id="c6197_808"><rect x="621.40" y="808.95" width="16.40" height="100.05"/></clipPath>
<g clip-path="url(#c6197_808)"><line x1="619.70" y1="939.20" x2="639.50" y2="919.40" stroke="#1a1a1a" stroke-width="1.2"/><line x1="619.70" y1="924.20" x2="639.50" y2="904.40" stroke="#1a1a1a" stroke-width="1.2"/><line x1="619.70" y1="909.20" x2="639.50" y2="889.40" stroke="#1a1a1a" stroke-width="1.2"/><line x1="619.70" y1="894.20" x2="639.50" y2="874.40" stroke="#1a1a1a" stroke-width="1.2"/><line x1="619.70" y1="879.20" x2="639.50" y2="859.40" stroke="#1a1a1a" stroke-width="1.2"/><line x1="619.70" y1="864.20" x2="639.50" y2="844.40" stroke="#1a1a1a" stroke-width="1.2"/><line x1="619.70" y1="849.20" x2="639.50" y2="829.40" stroke="#1a1a1a" stroke-width="1.2"/><line x1="619.70" y1="834.20" x2="639.50" y2="814.40" stroke="#1a1a1a" stroke-width="1.2"/><line x1="619.70" y1="819.20" x2="639.50" y2="799.40" stroke="#1a1a1a" stroke-width="1.2"/></g>
<line x1="656.30" y1="776.50" x2="656.30" y2="767.10" stroke="#222" stroke-width="1.3"/>
<line x1="652.50" y1="767.10" x2="660.10" y2="767.10" stroke="#222" stroke-width="1.5"/>
<rect x="647.45" y="776.50" width="17.70" height="132.50" fill="#999" stroke="#2e2e2e" stroke-width="1.7"/>
<clipPath id="c6466_776"><rect x="648.30" y="777.35" width="16.00" height="131.65"/></clipPath>
<g clip-path="url(#c6466_776)"><line x1="646.60" y1="936.80" x2="666.00" y2="917.40" stroke="#1a1a1a" stroke-width="1.2"/><line x1="646.60" y1="921.60" x2="666.00" y2="902.20" stroke="#1a1a1a" stroke-width="1.2"/><line x1="646.60" y1="906.40" x2="666.00" y2="887.00" stroke="#1a1a1a" stroke-width="1.2"/><line x1="646.60" y1="891.20" x2="666.00" y2="871.80" stroke="#1a1a1a" stroke-width="1.2"/><line x1="646.60" y1="876.00" x2="666.00" y2="856.60" stroke="#1a1a1a" stroke-width="1.2"/><line x1="646.60" y1="860.80" x2="666.00" y2="841.40" stroke="#1a1a1a" stroke-width="1.2"/><line x1="646.60" y1="845.60" x2="666.00" y2="826.20" stroke="#1a1a1a" stroke-width="1.2"/><line x1="646.60" y1="830.40" x2="666.00" y2="811.00" stroke="#1a1a1a" stroke-width="1.2"/><line x1="646.60" y1="815.20" x2="666.00" y2="795.80" stroke="#1a1a1a" stroke-width="1.2"/><line x1="646.60" y1="800.00" x2="666.00" y2="780.60" stroke="#1a1a1a" stroke-width="1.2"/><line x1="646.60" y1="784.80" x2="666.00" y2="765.40" stroke="#1a1a1a" stroke-width="1.2"/></g>
<line x1="520.50" y1="725.70" x2="520.50" y2="909.00" stroke="#111" stroke-width="1.4"/>
<line x1="518.10" y1="909.00" x2="683.70" y2="909.00" stroke="#111" stroke-width="1.5"/>
<line x1="517.90" y1="725.70" x2="520.50" y2="725.70" stroke="#111" stroke-width="1.2"/>
<text x="510.9" y="729.8" font-size="11.8" font-weight="bold" text-anchor="end" fill="#111">2.0</text>
<line x1="517.90" y1="786.80" x2="520.50" y2="786.80" stroke="#111" stroke-width="1.2"/>
<text x="510.9" y="790.9" font-size="11.8" font-weight="bold" text-anchor="end" fill="#111">1.5</text>
<line x1="517.90" y1="847.90" x2="520.50" y2="847.90" stroke="#111" stroke-width="1.2"/>
<text x="510.9" y="852.0" font-size="11.8" font-weight="bold" text-anchor="end" fill="#111">1.0</text>
<line x1="517.90" y1="909.00" x2="520.50" y2="909.00" stroke="#111" stroke-width="1.2"/>
<text x="510.9" y="913.1" font-size="11.8" font-weight="bold" text-anchor="end" fill="#111">0.5</text>
<line x1="539.00" y1="909.00" x2="539.00" y2="911.20" stroke="#333" stroke-width="0.9"/>
<line x1="547.80" y1="909.00" x2="547.80" y2="911.20" stroke="#333" stroke-width="0.9"/>
<line x1="556.60" y1="909.00" x2="556.60" y2="911.20" stroke="#333" stroke-width="0.9"/>
<line x1="565.80" y1="909.00" x2="565.80" y2="911.20" stroke="#333" stroke-width="0.9"/>
<line x1="574.90" y1="909.00" x2="574.90" y2="911.20" stroke="#333" stroke-width="0.9"/>
<line x1="584.00" y1="909.00" x2="584.00" y2="911.20" stroke="#333" stroke-width="0.9"/>
<line x1="620.70" y1="909.00" x2="620.70" y2="911.20" stroke="#333" stroke-width="0.9"/>
<line x1="629.60" y1="909.00" x2="629.60" y2="911.20" stroke="#333" stroke-width="0.9"/>
<line x1="638.50" y1="909.00" x2="638.50" y2="911.20" stroke="#333" stroke-width="0.9"/>
<line x1="647.60" y1="909.00" x2="647.60" y2="911.20" stroke="#333" stroke-width="0.9"/>
<line x1="656.30" y1="909.00" x2="656.30" y2="911.20" stroke="#333" stroke-width="0.9"/>
<line x1="665.00" y1="909.00" x2="665.00" y2="911.20" stroke="#333" stroke-width="0.9"/>
<line x1="537.00" y1="815.00" x2="574.40" y2="815.00" stroke="#222" stroke-width="1.3"/>
<text x="538.0" y="809.6" font-size="10.8" font-weight="bold" text-anchor="start" fill="#111" textLength="35.0" lengthAdjust="spacingAndGlyphs">P=0.08</text>
<line x1="550.00" y1="784.00" x2="630.40" y2="784.00" stroke="#222" stroke-width="1.3"/>
<text x="567.0" y="778.0" font-size="10.8" font-weight="bold" text-anchor="start" fill="#111" textLength="47.6" lengthAdjust="spacingAndGlyphs">P=0.0001</text>
<line x1="619.60" y1="755.00" x2="657.60" y2="755.00" stroke="#222" stroke-width="1.3"/>
<text x="621.0" y="749.4" font-size="10.8" font-weight="bold" text-anchor="start" fill="#111" textLength="34.0" lengthAdjust="spacingAndGlyphs">P=0.01</text>
<text x="532.7" y="927.7" font-size="12.6" font-weight="bold" text-anchor="start" fill="#111" textLength="60.6" lengthAdjust="spacingAndGlyphs">Untreated</text>
<text x="628.8" y="927.7" font-size="12.6" font-weight="bold" text-anchor="start" fill="#111" textLength="29.0" lengthAdjust="spacingAndGlyphs">IFN-<tspan font-weight="normal">&#947;</tspan></text>
<text transform="translate(486.0,818.0) rotate(-90)" font-size="13" font-weight="bold" text-anchor="middle" fill="#111" textLength="78.7" lengthAdjust="spacingAndGlyphs">pSTAT1 -MFI</text>
<text x="1.0" y="12.9" font-size="16.4" font-weight="bold" text-anchor="start" fill="#000">a</text>
<text x="1.0" y="252.0" font-size="16.4" font-weight="bold" text-anchor="start" fill="#000">b</text>
<text x="1.0" y="490.7" font-size="16.4" font-weight="bold" text-anchor="start" fill="#000">c</text>
<text x="1.0" y="733.9" font-size="16.4" font-weight="bold" text-anchor="start" fill="#000">d</text>
</svg>
</body></html>
